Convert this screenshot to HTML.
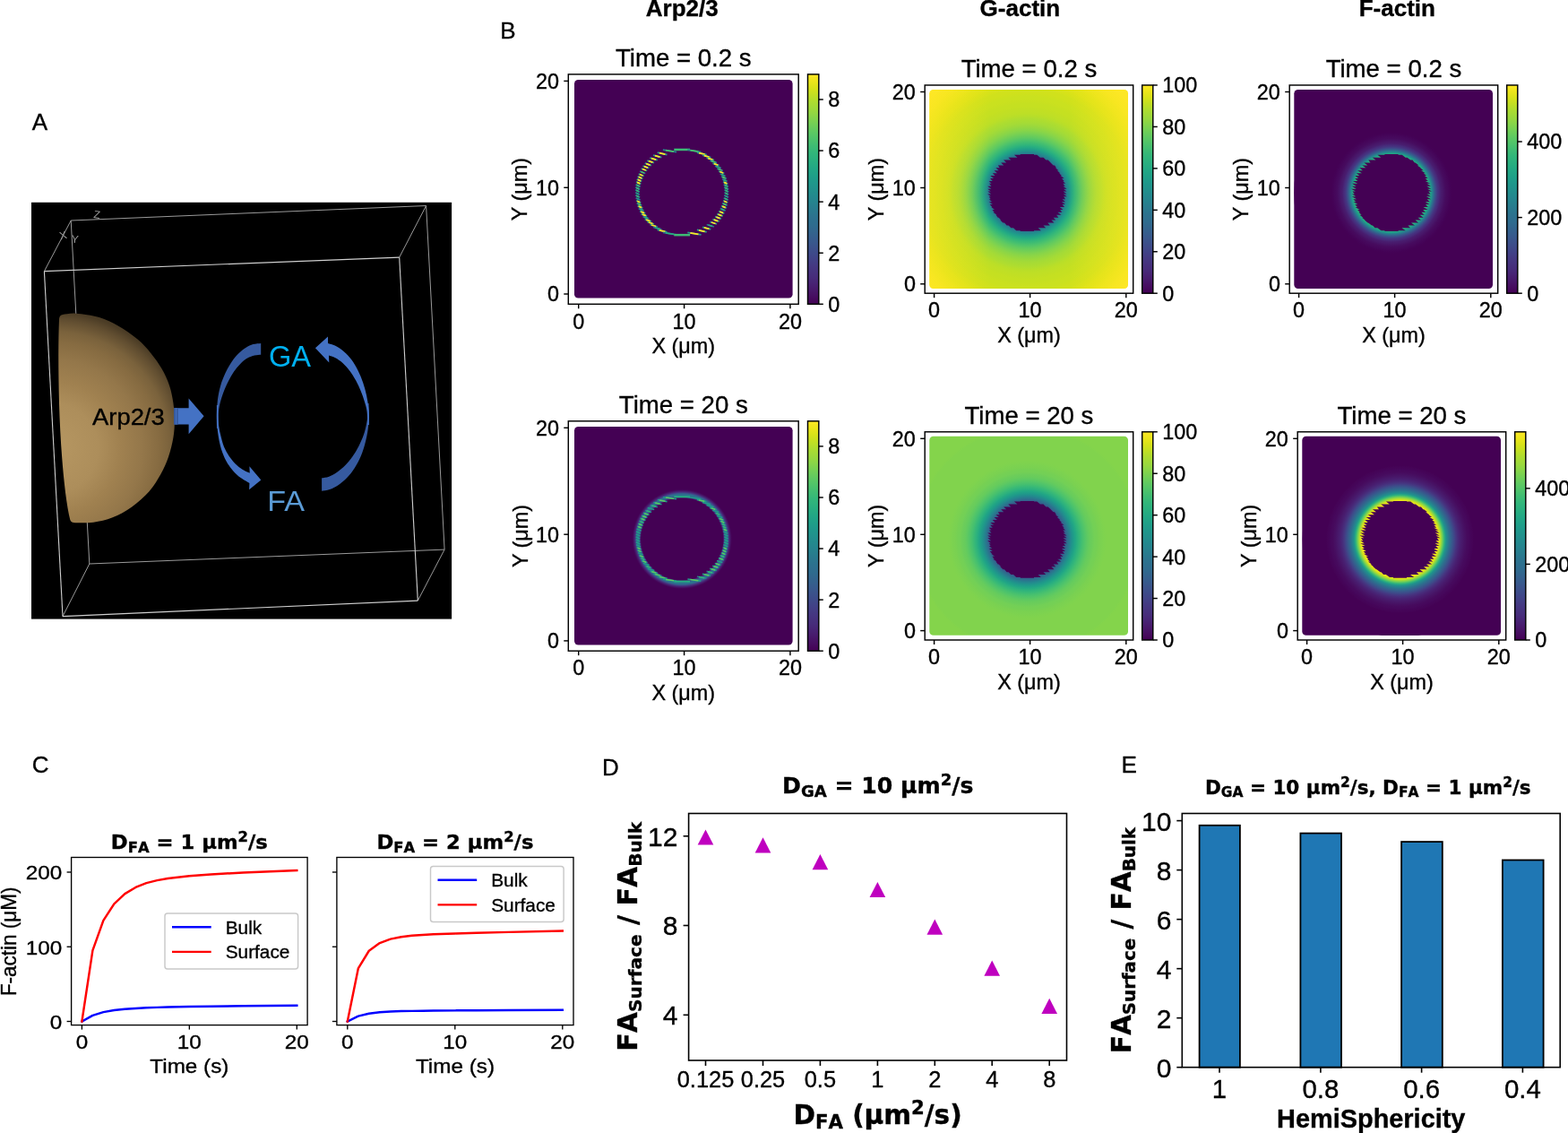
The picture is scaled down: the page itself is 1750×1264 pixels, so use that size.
<!DOCTYPE html>
<html lang="en">
<head>
<meta charset="utf-8">
<title>Figure: Arp2/3, G-actin and F-actin simulation</title>
<style>
html,body{margin:0;padding:0;background:#fff;}
body{width:1750px;height:1264px;overflow:hidden;font-family:'Liberation Sans',Arial,sans-serif;}
svg{display:block;}
</style>
</head>
<body>
<svg width="1750" height="1264" viewBox="0 0 1750 1264">
<defs>
<radialGradient id="hemi" gradientUnits="userSpaceOnUse" cx="60" cy="500" r="165">
<stop offset="0" stop-color="#b69762"/><stop offset="0.3" stop-color="#ad8e5b"/><stop offset="0.45" stop-color="#a08150"/><stop offset="0.6" stop-color="#94774a"/><stop offset="0.72" stop-color="#866b41"/><stop offset="0.79" stop-color="#7a623c"/><stop offset="0.87" stop-color="#604d30"/><stop offset="0.92" stop-color="#4c3d26"/><stop offset="1" stop-color="#3f321f"/>
</radialGradient>
<linearGradient id="virV" x1="0" y1="0" x2="0" y2="1"><stop offset="0" stop-color="#fde725"/><stop offset="0.03" stop-color="#ece51b"/><stop offset="0.06" stop-color="#d8e219"/><stop offset="0.09" stop-color="#c2df23"/><stop offset="0.12" stop-color="#addc30"/><stop offset="0.16" stop-color="#98d83e"/><stop offset="0.19" stop-color="#84d44b"/><stop offset="0.22" stop-color="#70cf57"/><stop offset="0.25" stop-color="#5ec962"/><stop offset="0.28" stop-color="#4ec36b"/><stop offset="0.31" stop-color="#3fbc73"/><stop offset="0.34" stop-color="#32b67a"/><stop offset="0.38" stop-color="#28ae80"/><stop offset="0.41" stop-color="#22a785"/><stop offset="0.44" stop-color="#1fa088"/><stop offset="0.47" stop-color="#1f988b"/><stop offset="0.5" stop-color="#21918c"/><stop offset="0.53" stop-color="#23898e"/><stop offset="0.56" stop-color="#26828e"/><stop offset="0.59" stop-color="#297a8e"/><stop offset="0.62" stop-color="#2c728e"/><stop offset="0.66" stop-color="#2f6b8e"/><stop offset="0.69" stop-color="#33638d"/><stop offset="0.72" stop-color="#375b8d"/><stop offset="0.75" stop-color="#3b528b"/><stop offset="0.78" stop-color="#3e4989"/><stop offset="0.81" stop-color="#424086"/><stop offset="0.84" stop-color="#453781"/><stop offset="0.88" stop-color="#472d7b"/><stop offset="0.91" stop-color="#482374"/><stop offset="0.94" stop-color="#48186a"/><stop offset="0.97" stop-color="#470d60"/><stop offset="1" stop-color="#440154"/></linearGradient>
<clipPath id="cliphm1"><rect x="641" y="89" width="243.6" height="243.6" rx="4.4" ry="4.4"/></clipPath>
<clipPath id="cliphm2"><rect x="641" y="475.9" width="243.6" height="243.6" rx="4.4" ry="4.4"/></clipPath>
<radialGradient id="hm2g" gradientUnits="userSpaceOnUse" cx="761.2" cy="601.45" r="55.9"><stop offset="0%" stop-color="#440154"/><stop offset="1.67%" stop-color="#440154"/><stop offset="3.33%" stop-color="#440154"/><stop offset="5%" stop-color="#440154"/><stop offset="6.67%" stop-color="#440154"/><stop offset="8.33%" stop-color="#440154"/><stop offset="10%" stop-color="#440154"/><stop offset="11.67%" stop-color="#440154"/><stop offset="13.33%" stop-color="#440154"/><stop offset="15%" stop-color="#440154"/><stop offset="16.67%" stop-color="#440154"/><stop offset="18.33%" stop-color="#440154"/><stop offset="20%" stop-color="#440154"/><stop offset="21.67%" stop-color="#440154"/><stop offset="23.33%" stop-color="#440154"/><stop offset="25%" stop-color="#440154"/><stop offset="26.67%" stop-color="#440154"/><stop offset="28.33%" stop-color="#440154"/><stop offset="30%" stop-color="#440154"/><stop offset="31.67%" stop-color="#440154"/><stop offset="33.33%" stop-color="#440154"/><stop offset="35%" stop-color="#440154"/><stop offset="36.67%" stop-color="#440154"/><stop offset="38.33%" stop-color="#440154"/><stop offset="40%" stop-color="#440154"/><stop offset="41.67%" stop-color="#440154"/><stop offset="43.33%" stop-color="#440154"/><stop offset="45%" stop-color="#440154"/><stop offset="46.67%" stop-color="#440154"/><stop offset="48.33%" stop-color="#440154"/><stop offset="50%" stop-color="#440154"/><stop offset="51.67%" stop-color="#440154"/><stop offset="53.33%" stop-color="#440154"/><stop offset="55%" stop-color="#440154"/><stop offset="56.67%" stop-color="#440154"/><stop offset="58.33%" stop-color="#440154"/><stop offset="60%" stop-color="#440154"/><stop offset="61.67%" stop-color="#440154"/><stop offset="63.33%" stop-color="#440154"/><stop offset="65%" stop-color="#440154"/><stop offset="66.67%" stop-color="#440154"/><stop offset="68.33%" stop-color="#440154"/><stop offset="70%" stop-color="#440154"/><stop offset="71.67%" stop-color="#440154"/><stop offset="73.33%" stop-color="#440154"/><stop offset="75%" stop-color="#440154"/><stop offset="76.67%" stop-color="#440154"/><stop offset="78.33%" stop-color="#440154"/><stop offset="80%" stop-color="#440154"/><stop offset="81.67%" stop-color="#440154"/><stop offset="83.33%" stop-color="#482173"/><stop offset="85%" stop-color="#3f4889"/><stop offset="86.67%" stop-color="#2e6d8e"/><stop offset="88.33%" stop-color="#2a768e"/><stop offset="90%" stop-color="#2f6b8e"/><stop offset="91.67%" stop-color="#3b528b"/><stop offset="93.33%" stop-color="#453781"/><stop offset="95%" stop-color="#482173"/><stop offset="96.67%" stop-color="#471365"/><stop offset="98.33%" stop-color="#450559"/><stop offset="100%" stop-color="#440154"/></radialGradient>
<clipPath id="cliphm3"><rect x="1037.3" y="99.9" width="221.7" height="222.1" rx="4.4" ry="4.4"/></clipPath>
<radialGradient id="hm3g" gradientUnits="userSpaceOnUse" cx="1146.4" cy="215" r="161.02"><stop offset="0%" stop-color="#2a788e"/><stop offset="1.67%" stop-color="#2a788e"/><stop offset="3.33%" stop-color="#2a788e"/><stop offset="5%" stop-color="#2a788e"/><stop offset="6.67%" stop-color="#2a788e"/><stop offset="8.33%" stop-color="#2a788e"/><stop offset="10%" stop-color="#2a788e"/><stop offset="11.67%" stop-color="#2a788e"/><stop offset="13.33%" stop-color="#2a788e"/><stop offset="15%" stop-color="#2a788e"/><stop offset="16.67%" stop-color="#2a788e"/><stop offset="18.33%" stop-color="#2a788e"/><stop offset="20%" stop-color="#2a788e"/><stop offset="21.67%" stop-color="#2a788e"/><stop offset="23.33%" stop-color="#2a788e"/><stop offset="25%" stop-color="#2a788e"/><stop offset="26.67%" stop-color="#2a788e"/><stop offset="28.33%" stop-color="#228c8d"/><stop offset="30%" stop-color="#1f9e89"/><stop offset="31.67%" stop-color="#25ac82"/><stop offset="33.33%" stop-color="#32b67a"/><stop offset="35%" stop-color="#40bd72"/><stop offset="36.67%" stop-color="#50c46a"/><stop offset="38.33%" stop-color="#60ca60"/><stop offset="40%" stop-color="#6ece58"/><stop offset="41.67%" stop-color="#7cd250"/><stop offset="43.33%" stop-color="#89d548"/><stop offset="45%" stop-color="#93d741"/><stop offset="46.67%" stop-color="#9dd93b"/><stop offset="48.33%" stop-color="#a5db36"/><stop offset="50%" stop-color="#aadc32"/><stop offset="51.67%" stop-color="#b0dd2f"/><stop offset="53.33%" stop-color="#b8de29"/><stop offset="55%" stop-color="#bddf26"/><stop offset="56.67%" stop-color="#c0df25"/><stop offset="58.33%" stop-color="#c2df23"/><stop offset="60%" stop-color="#c5e021"/><stop offset="61.67%" stop-color="#c5e021"/><stop offset="63.33%" stop-color="#c8e020"/><stop offset="65%" stop-color="#cae11f"/><stop offset="66.67%" stop-color="#cae11f"/><stop offset="68.33%" stop-color="#cde11d"/><stop offset="70%" stop-color="#d0e11c"/><stop offset="71.67%" stop-color="#d0e11c"/><stop offset="73.33%" stop-color="#d5e21a"/><stop offset="75%" stop-color="#d8e219"/><stop offset="76.67%" stop-color="#dde318"/><stop offset="78.33%" stop-color="#dfe318"/><stop offset="80%" stop-color="#e2e418"/><stop offset="81.67%" stop-color="#e7e419"/><stop offset="83.33%" stop-color="#eae51a"/><stop offset="85%" stop-color="#ece51b"/><stop offset="86.67%" stop-color="#f1e51d"/><stop offset="88.33%" stop-color="#f4e61e"/><stop offset="90%" stop-color="#f6e620"/><stop offset="91.67%" stop-color="#f8e621"/><stop offset="93.33%" stop-color="#fbe723"/><stop offset="95%" stop-color="#fde725"/><stop offset="96.67%" stop-color="#fde725"/><stop offset="98.33%" stop-color="#fde725"/><stop offset="100%" stop-color="#fde725"/></radialGradient>
<linearGradient id="hm3h" x1="0" y1="0" x2="1" y2="0"><stop offset="0" stop-color="#fde725" stop-opacity="0.55"/><stop offset="0.12" stop-color="#fde725" stop-opacity="0.3"/><stop offset="0.3" stop-color="#fde725" stop-opacity="0"/><stop offset="0.7" stop-color="#fde725" stop-opacity="0"/><stop offset="0.88" stop-color="#fde725" stop-opacity="0.3"/><stop offset="1" stop-color="#fde725" stop-opacity="0.55"/></linearGradient>
<clipPath id="cliphm4"><rect x="1037.3" y="486.7" width="221.7" height="222.1" rx="4.4" ry="4.4"/></clipPath>
<radialGradient id="hm4g" gradientUnits="userSpaceOnUse" cx="1146.4" cy="601.8" r="161.02"><stop offset="0%" stop-color="#355f8d"/><stop offset="1.67%" stop-color="#355f8d"/><stop offset="3.33%" stop-color="#355f8d"/><stop offset="5%" stop-color="#355f8d"/><stop offset="6.67%" stop-color="#355f8d"/><stop offset="8.33%" stop-color="#355f8d"/><stop offset="10%" stop-color="#355f8d"/><stop offset="11.67%" stop-color="#355f8d"/><stop offset="13.33%" stop-color="#355f8d"/><stop offset="15%" stop-color="#355f8d"/><stop offset="16.67%" stop-color="#355f8d"/><stop offset="18.33%" stop-color="#355f8d"/><stop offset="20%" stop-color="#355f8d"/><stop offset="21.67%" stop-color="#355f8d"/><stop offset="23.33%" stop-color="#355f8d"/><stop offset="25%" stop-color="#355f8d"/><stop offset="26.67%" stop-color="#355f8d"/><stop offset="28.33%" stop-color="#2b748e"/><stop offset="30%" stop-color="#23888e"/><stop offset="31.67%" stop-color="#1f998a"/><stop offset="33.33%" stop-color="#21a685"/><stop offset="35%" stop-color="#2cb17e"/><stop offset="36.67%" stop-color="#38b977"/><stop offset="38.33%" stop-color="#46c06f"/><stop offset="40%" stop-color="#52c569"/><stop offset="41.67%" stop-color="#5ec962"/><stop offset="43.33%" stop-color="#67cc5c"/><stop offset="45%" stop-color="#6ccd5a"/><stop offset="46.67%" stop-color="#73d056"/><stop offset="48.33%" stop-color="#75d054"/><stop offset="50%" stop-color="#7ad151"/><stop offset="51.67%" stop-color="#7cd250"/><stop offset="53.33%" stop-color="#7fd34e"/><stop offset="55%" stop-color="#81d34d"/><stop offset="56.67%" stop-color="#81d34d"/><stop offset="58.33%" stop-color="#81d34d"/><stop offset="60%" stop-color="#81d34d"/><stop offset="61.67%" stop-color="#81d34d"/><stop offset="63.33%" stop-color="#81d34d"/><stop offset="65%" stop-color="#81d34d"/><stop offset="66.67%" stop-color="#81d34d"/><stop offset="68.33%" stop-color="#81d34d"/><stop offset="70%" stop-color="#81d34d"/><stop offset="71.67%" stop-color="#81d34d"/><stop offset="73.33%" stop-color="#81d34d"/><stop offset="75%" stop-color="#81d34d"/><stop offset="76.67%" stop-color="#81d34d"/><stop offset="78.33%" stop-color="#84d44b"/><stop offset="80%" stop-color="#84d44b"/><stop offset="81.67%" stop-color="#84d44b"/><stop offset="83.33%" stop-color="#84d44b"/><stop offset="85%" stop-color="#84d44b"/><stop offset="86.67%" stop-color="#84d44b"/><stop offset="88.33%" stop-color="#84d44b"/><stop offset="90%" stop-color="#84d44b"/><stop offset="91.67%" stop-color="#84d44b"/><stop offset="93.33%" stop-color="#84d44b"/><stop offset="95%" stop-color="#84d44b"/><stop offset="96.67%" stop-color="#84d44b"/><stop offset="98.33%" stop-color="#84d44b"/><stop offset="100%" stop-color="#84d44b"/></radialGradient>
<clipPath id="cliphm5"><rect x="1444.3" y="99.9" width="221.7" height="222.1" rx="4.4" ry="4.4"/></clipPath>
<radialGradient id="hm5g" gradientUnits="userSpaceOnUse" cx="1553" cy="215" r="110"><stop offset="0%" stop-color="#32b67a"/><stop offset="1.67%" stop-color="#32b67a"/><stop offset="3.33%" stop-color="#32b67a"/><stop offset="5%" stop-color="#32b67a"/><stop offset="6.67%" stop-color="#32b67a"/><stop offset="8.33%" stop-color="#32b67a"/><stop offset="10%" stop-color="#32b67a"/><stop offset="11.67%" stop-color="#32b67a"/><stop offset="13.33%" stop-color="#32b67a"/><stop offset="15%" stop-color="#32b67a"/><stop offset="16.67%" stop-color="#32b67a"/><stop offset="18.33%" stop-color="#32b67a"/><stop offset="20%" stop-color="#32b67a"/><stop offset="21.67%" stop-color="#32b67a"/><stop offset="23.33%" stop-color="#32b67a"/><stop offset="25%" stop-color="#32b67a"/><stop offset="26.67%" stop-color="#32b67a"/><stop offset="28.33%" stop-color="#32b67a"/><stop offset="30%" stop-color="#32b67a"/><stop offset="31.67%" stop-color="#32b67a"/><stop offset="33.33%" stop-color="#32b67a"/><stop offset="35%" stop-color="#32b67a"/><stop offset="36.67%" stop-color="#32b67a"/><stop offset="38.33%" stop-color="#2db27d"/><stop offset="40%" stop-color="#1fa187"/><stop offset="41.67%" stop-color="#26828e"/><stop offset="43.33%" stop-color="#33638d"/><stop offset="45%" stop-color="#3e4a89"/><stop offset="46.67%" stop-color="#453581"/><stop offset="48.33%" stop-color="#472a7a"/><stop offset="50%" stop-color="#481d6f"/><stop offset="51.67%" stop-color="#48186a"/><stop offset="53.33%" stop-color="#471164"/><stop offset="55%" stop-color="#460b5e"/><stop offset="56.67%" stop-color="#46085c"/><stop offset="58.33%" stop-color="#450559"/><stop offset="60%" stop-color="#440256"/><stop offset="61.67%" stop-color="#440154"/><stop offset="63.33%" stop-color="#440154"/><stop offset="65%" stop-color="#440154"/><stop offset="66.67%" stop-color="#440154"/><stop offset="68.33%" stop-color="#440154"/><stop offset="70%" stop-color="#440154"/><stop offset="71.67%" stop-color="#440154"/><stop offset="73.33%" stop-color="#440154"/><stop offset="75%" stop-color="#440154"/><stop offset="76.67%" stop-color="#440154"/><stop offset="78.33%" stop-color="#440154"/><stop offset="80%" stop-color="#440154"/><stop offset="81.67%" stop-color="#440154"/><stop offset="83.33%" stop-color="#440154"/><stop offset="85%" stop-color="#440154"/><stop offset="86.67%" stop-color="#440154"/><stop offset="88.33%" stop-color="#440154"/><stop offset="90%" stop-color="#440154"/><stop offset="91.67%" stop-color="#440154"/><stop offset="93.33%" stop-color="#440154"/><stop offset="95%" stop-color="#440154"/><stop offset="96.67%" stop-color="#440154"/><stop offset="98.33%" stop-color="#440154"/><stop offset="100%" stop-color="#440154"/></radialGradient>
<clipPath id="cliphm6"><rect x="1453.3" y="486.7" width="221.7" height="222.1" rx="4.4" ry="4.4"/></clipPath>
<radialGradient id="hm6g" gradientUnits="userSpaceOnUse" cx="1562.5" cy="601.8" r="110"><stop offset="0%" stop-color="#fde725"/><stop offset="1.67%" stop-color="#fde725"/><stop offset="3.33%" stop-color="#fde725"/><stop offset="5%" stop-color="#fde725"/><stop offset="6.67%" stop-color="#fde725"/><stop offset="8.33%" stop-color="#fde725"/><stop offset="10%" stop-color="#fde725"/><stop offset="11.67%" stop-color="#fde725"/><stop offset="13.33%" stop-color="#fde725"/><stop offset="15%" stop-color="#fde725"/><stop offset="16.67%" stop-color="#fde725"/><stop offset="18.33%" stop-color="#fde725"/><stop offset="20%" stop-color="#fde725"/><stop offset="21.67%" stop-color="#fde725"/><stop offset="23.33%" stop-color="#fde725"/><stop offset="25%" stop-color="#fde725"/><stop offset="26.67%" stop-color="#fde725"/><stop offset="28.33%" stop-color="#fde725"/><stop offset="30%" stop-color="#fde725"/><stop offset="31.67%" stop-color="#fde725"/><stop offset="33.33%" stop-color="#fde725"/><stop offset="35%" stop-color="#fde725"/><stop offset="36.67%" stop-color="#fde725"/><stop offset="38.33%" stop-color="#f8e621"/><stop offset="40%" stop-color="#dfe318"/><stop offset="41.67%" stop-color="#a5db36"/><stop offset="43.33%" stop-color="#65cb5e"/><stop offset="45%" stop-color="#2db27d"/><stop offset="46.67%" stop-color="#1f948c"/><stop offset="48.33%" stop-color="#26828e"/><stop offset="50%" stop-color="#2c718e"/><stop offset="51.67%" stop-color="#33638d"/><stop offset="53.33%" stop-color="#39558c"/><stop offset="55%" stop-color="#3f4788"/><stop offset="56.67%" stop-color="#453882"/><stop offset="58.33%" stop-color="#472d7b"/><stop offset="60%" stop-color="#482475"/><stop offset="61.67%" stop-color="#481d6f"/><stop offset="63.33%" stop-color="#48186a"/><stop offset="65%" stop-color="#471365"/><stop offset="66.67%" stop-color="#470e61"/><stop offset="68.33%" stop-color="#460a5d"/><stop offset="70%" stop-color="#46085c"/><stop offset="71.67%" stop-color="#450559"/><stop offset="73.33%" stop-color="#450457"/><stop offset="75%" stop-color="#440154"/><stop offset="76.67%" stop-color="#440154"/><stop offset="78.33%" stop-color="#440154"/><stop offset="80%" stop-color="#440154"/><stop offset="81.67%" stop-color="#440154"/><stop offset="83.33%" stop-color="#440154"/><stop offset="85%" stop-color="#440154"/><stop offset="86.67%" stop-color="#440154"/><stop offset="88.33%" stop-color="#440154"/><stop offset="90%" stop-color="#440154"/><stop offset="91.67%" stop-color="#440154"/><stop offset="93.33%" stop-color="#440154"/><stop offset="95%" stop-color="#440154"/><stop offset="96.67%" stop-color="#440154"/><stop offset="98.33%" stop-color="#440154"/><stop offset="100%" stop-color="#440154"/></radialGradient>
</defs>
<rect x="0" y="0" width="1750" height="1264" fill="#ffffff"/>
<text x="35.7" y="145.1" font-family="'Liberation Sans', Arial, Helvetica, sans-serif" font-size="26" font-weight="normal" text-anchor="start" fill="#000" stroke="#000" stroke-width="0.35">A</text>
<g id="panelA">
<rect x="35" y="225.8" width="469.1" height="464.8" fill="#000" stroke="none" stroke-width="0"/>
<line x1="79.2" y1="246" x2="475.6" y2="229.5" stroke="#9a9a9a" stroke-width="1"/>
<line x1="475.6" y1="229.5" x2="496.1" y2="613.1" stroke="#9a9a9a" stroke-width="1"/>
<line x1="496.1" y1="613.1" x2="99.8" y2="629" stroke="#9a9a9a" stroke-width="1"/>
<line x1="99.8" y1="629" x2="79.2" y2="246" stroke="#9a9a9a" stroke-width="1"/>
<line x1="49.4" y1="302.6" x2="79.2" y2="246" stroke="#9a9a9a" stroke-width="1"/>
<line x1="445.7" y1="287.1" x2="475.6" y2="229.5" stroke="#9a9a9a" stroke-width="1"/>
<line x1="70" y1="687.6" x2="99.8" y2="629" stroke="#9a9a9a" stroke-width="1"/>
<line x1="466.3" y1="670.1" x2="496.1" y2="613.1" stroke="#9a9a9a" stroke-width="1"/>
<line x1="49.4" y1="302.6" x2="445.7" y2="287.1" stroke="#cfcfcf" stroke-width="1.1"/>
<line x1="445.7" y1="287.1" x2="466.3" y2="670.1" stroke="#cfcfcf" stroke-width="1.1"/>
<line x1="466.3" y1="670.1" x2="70" y2="687.6" stroke="#cfcfcf" stroke-width="1.1"/>
<line x1="70" y1="687.6" x2="49.4" y2="302.6" stroke="#cfcfcf" stroke-width="1.1"/>
<text x="104" y="243" font-family="'Liberation Sans', Arial, Helvetica, sans-serif" font-size="12" font-weight="normal" text-anchor="start" fill="#9c9c9c" transform="rotate(8 104 243)">Z</text>
<text x="67.4" y="267.6" font-family="'Liberation Sans', Arial, Helvetica, sans-serif" font-size="12" font-weight="normal" text-anchor="start" fill="#9c9c9c" transform="rotate(-14 67.4 267.6)">X</text>
<text x="79.2" y="270.4" font-family="'Liberation Sans', Arial, Helvetica, sans-serif" font-size="12" font-weight="normal" text-anchor="start" fill="#9c9c9c" transform="rotate(6 79.2 270.4)">Y</text>
<path d="M70,351 C72.48,350.78 78.12,349.2 84.9,349.7 C91.68,350.2 102.82,351.67 110.7,354 C118.58,356.33 125.05,359.6 132.2,363.7 C139.35,367.8 147.55,373.52 153.6,378.6 C159.65,383.68 164.02,388.75 168.5,394.2 C172.98,399.65 177.07,405.3 180.5,411.3 C183.93,417.3 186.95,423.82 189.1,430.2 C191.25,436.58 192.43,443.15 193.4,449.6 C194.37,456.05 194.9,462.47 194.9,468.9 C194.9,475.33 194.55,481.4 193.4,488.2 C192.25,495 190.33,502.9 188,509.7 C185.67,516.5 182.98,522.57 179.4,529 C175.82,535.43 171.87,542.22 166.5,548.3 C161.13,554.38 154,560.67 147.2,565.5 C140.4,570.33 132.87,574.43 125.7,577.3 C118.53,580.17 111.15,581.72 104.2,582.7 C97.25,583.68 87.37,583.12 84,583.2 Q79.5,583.2 78.3,580 C72,555 67.5,500 66,450 C65,410 65,380 66,356 Q66.3,351.4 70,351 Z" fill="url(#hemi)"/>
<text transform="translate(103 473.7) scale(1.0300 1.0000)" font-family="'Liberation Sans', Arial, Helvetica, sans-serif" font-size="26.6" font-weight="normal" text-anchor="start" fill="#000" stroke="#000" stroke-width="0.35">Arp2/3</text>
<path d="M194.2,455.2 H210.6 V444.4 L227.6,464.2 L210.6,484.2 V473.6 H194.2 Z" fill="#4472c4"/>
<rect x="194.2" y="455.2" width="4.6" height="18.4" fill="#365a9f"/>
<rect x="196.1" y="455.2" width="0.9" height="18.4" fill="#4472c4"/>
<path d="M291.2,382.9 C289.75,383.1 285.27,383.3 282.5,384.1 C279.73,384.9 277.25,386.05 274.6,387.7 C271.95,389.35 269.25,391.37 266.6,394 C263.95,396.63 261.2,399.82 258.7,403.5 C256.2,407.18 253.7,411.62 251.6,416.1 C249.5,420.58 247.55,425.38 246.1,430.4 C244.65,435.42 243.62,440.93 242.9,446.2 C242.18,451.47 241.95,456.7 241.8,462 C241.65,467.3 241.97,475.33 242,478 L244,478 C243.97,475.33 243.58,466.5 243.8,462 C244.02,457.5 244.4,454.95 245.3,451 C246.2,447.05 247.62,442.53 249.2,438.3 C250.78,434.07 252.82,429.55 254.8,425.6 C256.78,421.65 258.87,417.88 261.1,414.6 C263.33,411.32 265.7,408.42 268.2,405.9 C270.7,403.38 273.45,401.07 276.1,399.5 C278.75,397.93 281.58,397.13 284.1,396.5 C286.62,395.87 290.02,395.83 291.2,395.7 Z" fill="#365a9f"/>
<path d="M241.9,452 C241.93,455.13 241.8,465.03 242.1,470.8 C242.4,476.57 242.9,481.58 243.7,486.6 C244.5,491.62 245.45,496.28 246.9,500.9 C248.35,505.52 250.17,510.22 252.4,514.3 C254.63,518.38 257.53,522.23 260.3,525.4 C263.07,528.57 265.98,531.05 269,533.3 C272.02,535.55 276.83,537.97 278.4,538.9 L278.1,546.2 L291.3,535.5 L278.4,520.2 L278.7,527.8 L278.7,527.8 C277.35,527.13 273.27,525.52 270.6,523.8 C267.93,522.08 265.2,520 262.7,517.5 C260.2,515 257.72,511.97 255.6,508.8 C253.48,505.63 251.52,502.2 250,498.5 C248.48,494.8 247.48,490.55 246.5,486.6 C245.52,482.65 244.62,478.75 244.1,474.8 C243.58,470.85 243.52,466.7 243.4,462.9 C243.28,459.1 243.4,453.82 243.4,452 Z" fill="#4472c4"/>
<path d="M359.1,547.7 C360.58,547.42 364.93,547.08 368,546 C371.07,544.92 374.33,543.32 377.5,541.2 C380.67,539.08 383.97,536.47 387,533.3 C390.03,530.13 393.07,526.28 395.7,522.2 C398.33,518.12 400.83,513.4 402.8,508.8 C404.77,504.2 406.18,499.62 407.5,494.6 C408.82,489.58 409.97,483.98 410.7,478.7 C411.43,473.42 411.77,467.68 411.9,462.9 C412.03,458.12 411.57,452.15 411.5,450 L409.7,450 C409.8,452.15 410.4,459.17 410.3,462.9 C410.2,466.63 409.83,468.7 409.1,472.4 C408.37,476.1 407.35,480.88 405.9,485.1 C404.45,489.32 402.5,493.62 400.4,497.7 C398.3,501.78 395.8,506.03 393.3,509.6 C390.8,513.17 388.3,516.2 385.4,519.1 C382.5,522 378.93,524.9 375.9,527 C372.87,529.1 370,530.65 367.2,531.7 C364.4,532.75 360.45,533.03 359.1,533.3 Z" fill="#365a9f"/>
<path d="M411.9,474 C411.83,471.17 411.97,462.47 411.5,457 C411.03,451.53 410.15,446.2 409.1,441.2 C408.05,436.2 406.78,431.62 405.2,427 C403.62,422.38 401.72,417.73 399.6,413.5 C397.48,409.27 395.13,405.15 392.5,401.6 C389.87,398.05 386.83,394.83 383.8,392.2 C380.77,389.57 377.27,387.32 374.3,385.8 C371.33,384.28 367.38,383.55 366,383.1 L366,375.6 L351.9,388.2 L367.3,404.5 L367,396.5 L367,396.5 C368.22,396.97 371.77,397.92 374.3,399.3 C376.83,400.68 379.57,402.43 382.2,404.8 C384.83,407.17 387.6,410.2 390.1,413.5 C392.6,416.8 395.08,420.77 397.2,424.6 C399.32,428.43 401.22,432.68 402.8,436.5 C404.38,440.32 405.58,443.82 406.7,447.5 C407.82,451.18 408.9,454.18 409.5,458.6 C410.1,463.02 410.17,471.43 410.3,474 Z" fill="#4472c4"/>
<text x="299.9" y="409.2" font-family="'Liberation Sans', Arial, Helvetica, sans-serif" font-size="32.6" font-weight="normal" text-anchor="start" fill="#00b0f0">GA</text>
<text transform="translate(298.2 569.6) scale(1.0600 1.0000)" font-family="'Liberation Sans', Arial, Helvetica, sans-serif" font-size="32.2" font-weight="normal" text-anchor="start" fill="#5b9bd5">FA</text>
</g>
<text x="558.3" y="42.6" font-family="'Liberation Sans', Arial, Helvetica, sans-serif" font-size="26" font-weight="normal" text-anchor="start" fill="#000" stroke="#000" stroke-width="0.35">B</text>
<text x="761.3" y="18.3" font-family="'Liberation Sans', Arial, Helvetica, sans-serif" font-size="26" font-weight="bold" text-anchor="middle" fill="#000" stroke="#000" stroke-width="0.35">Arp2/3</text>
<text x="1138.4" y="18.3" font-family="'Liberation Sans', Arial, Helvetica, sans-serif" font-size="26" font-weight="bold" text-anchor="middle" fill="#000" stroke="#000" stroke-width="0.35">G-actin</text>
<text x="1559.3" y="18.3" font-family="'Liberation Sans', Arial, Helvetica, sans-serif" font-size="26" font-weight="bold" text-anchor="middle" fill="#000" stroke="#000" stroke-width="0.35">F-actin</text>
<g id="hm1">
<rect x="641" y="89" width="243.6" height="243.6" rx="4.4" ry="4.4" fill="#440154"/>
<g stroke-linecap="butt"><line x1="752.27" y1="166.95" x2="770.13" y2="166.95" stroke="#3dbc74" stroke-width="2.52"/><line x1="739.88" y1="167.19" x2="755.07" y2="169.69" stroke="#26828e" stroke-width="1.8"/><line x1="742.92" y1="167.69" x2="752.03" y2="169.19" stroke="#4ac16d" stroke-width="1.8"/><line x1="767.33" y1="167.19" x2="782.52" y2="169.69" stroke="#26828e" stroke-width="1.8"/><line x1="770.37" y1="167.69" x2="779.48" y2="169.19" stroke="#4ac16d" stroke-width="1.8"/><line x1="733.73" y1="170.16" x2="744.48" y2="172.66" stroke="#2a9d8a" stroke-width="1.8"/><line x1="735.88" y1="170.66" x2="742.33" y2="172.16" stroke="#fde725" stroke-width="1.8"/><line x1="777.92" y1="170.16" x2="788.67" y2="172.66" stroke="#2a9d8a" stroke-width="1.8"/><line x1="780.07" y1="170.66" x2="786.52" y2="172.16" stroke="#fde725" stroke-width="1.8"/><line x1="729.13" y1="173.14" x2="738.33" y2="175.64" stroke="#2a9d8a" stroke-width="1.8"/><line x1="730.97" y1="173.64" x2="736.49" y2="175.14" stroke="#fde725" stroke-width="1.8"/><line x1="784.07" y1="173.14" x2="793.27" y2="175.64" stroke="#2a9d8a" stroke-width="1.8"/><line x1="785.91" y1="173.64" x2="791.43" y2="175.14" stroke="#fde725" stroke-width="1.8"/><line x1="725.42" y1="176.11" x2="733.73" y2="178.61" stroke="#2a9d8a" stroke-width="1.8"/><line x1="727.08" y1="176.61" x2="732.07" y2="178.11" stroke="#fde725" stroke-width="1.8"/><line x1="788.67" y1="176.11" x2="796.98" y2="178.61" stroke="#2a9d8a" stroke-width="1.8"/><line x1="790.33" y1="176.61" x2="795.32" y2="178.11" stroke="#fde725" stroke-width="1.8"/><line x1="722.35" y1="179.09" x2="730.02" y2="181.59" stroke="#2a9d8a" stroke-width="1.8"/><line x1="723.88" y1="179.59" x2="728.49" y2="181.09" stroke="#fde725" stroke-width="1.8"/><line x1="792.38" y1="179.09" x2="800.05" y2="181.59" stroke="#26828e" stroke-width="1.8"/><line x1="793.91" y1="179.59" x2="798.52" y2="181.09" stroke="#4ac16d" stroke-width="1.8"/><line x1="719.75" y1="182.06" x2="726.95" y2="184.56" stroke="#2a9d8a" stroke-width="1.8"/><line x1="721.19" y1="182.56" x2="725.51" y2="184.06" stroke="#fde725" stroke-width="1.8"/><line x1="795.45" y1="182.06" x2="802.65" y2="184.56" stroke="#2a9d8a" stroke-width="1.8"/><line x1="796.89" y1="182.56" x2="801.21" y2="184.06" stroke="#fde725" stroke-width="1.8"/><line x1="717.54" y1="185.04" x2="724.35" y2="187.54" stroke="#2a9d8a" stroke-width="1.8"/><line x1="718.9" y1="185.54" x2="722.98" y2="187.04" stroke="#fde725" stroke-width="1.8"/><line x1="798.05" y1="185.04" x2="804.86" y2="187.54" stroke="#2c728e" stroke-width="1.8"/><line x1="799.42" y1="185.54" x2="803.5" y2="187.04" stroke="#27ad81" stroke-width="1.8"/><line x1="715.65" y1="188.01" x2="722.14" y2="190.51" stroke="#2a9d8a" stroke-width="1.8"/><line x1="716.95" y1="188.51" x2="720.84" y2="190.01" stroke="#fde725" stroke-width="1.8"/><line x1="800.26" y1="188.01" x2="806.75" y2="190.51" stroke="#26828e" stroke-width="1.8"/><line x1="801.56" y1="188.51" x2="805.45" y2="190.01" stroke="#4ac16d" stroke-width="1.8"/><line x1="714.06" y1="190.99" x2="720.25" y2="193.49" stroke="#26828e" stroke-width="1.8"/><line x1="715.3" y1="191.49" x2="719.01" y2="192.99" stroke="#4ac16d" stroke-width="1.8"/><line x1="802.15" y1="190.99" x2="808.34" y2="193.49" stroke="#2a9d8a" stroke-width="1.8"/><line x1="803.39" y1="191.49" x2="807.1" y2="192.99" stroke="#fde725" stroke-width="1.8"/><line x1="712.72" y1="193.96" x2="718.66" y2="196.46" stroke="#2a9d8a" stroke-width="1.8"/><line x1="713.91" y1="194.46" x2="717.47" y2="195.96" stroke="#fde725" stroke-width="1.8"/><line x1="803.74" y1="193.96" x2="809.68" y2="196.46" stroke="#2c728e" stroke-width="1.8"/><line x1="804.93" y1="194.46" x2="808.49" y2="195.96" stroke="#27ad81" stroke-width="1.8"/><line x1="711.62" y1="196.94" x2="717.32" y2="199.44" stroke="#2a9d8a" stroke-width="1.8"/><line x1="712.76" y1="197.44" x2="716.18" y2="198.94" stroke="#fde725" stroke-width="1.8"/><line x1="805.08" y1="196.94" x2="810.78" y2="199.44" stroke="#26828e" stroke-width="1.8"/><line x1="806.22" y1="197.44" x2="809.64" y2="198.94" stroke="#4ac16d" stroke-width="1.8"/><line x1="710.73" y1="199.91" x2="716.22" y2="202.41" stroke="#2a9d8a" stroke-width="1.8"/><line x1="711.83" y1="200.41" x2="715.12" y2="201.91" stroke="#fde725" stroke-width="1.8"/><line x1="806.18" y1="199.91" x2="811.67" y2="202.41" stroke="#2c728e" stroke-width="1.8"/><line x1="807.28" y1="200.41" x2="810.57" y2="201.91" stroke="#27ad81" stroke-width="1.8"/><line x1="710.06" y1="202.89" x2="715.33" y2="205.39" stroke="#2a9d8a" stroke-width="1.8"/><line x1="711.11" y1="203.39" x2="714.28" y2="204.89" stroke="#fde725" stroke-width="1.8"/><line x1="807.07" y1="202.89" x2="812.34" y2="205.39" stroke="#2a9d8a" stroke-width="1.8"/><line x1="808.12" y1="203.39" x2="811.29" y2="204.89" stroke="#fde725" stroke-width="1.8"/><line x1="709.58" y1="205.86" x2="714.66" y2="208.36" stroke="#26828e" stroke-width="1.8"/><line x1="710.59" y1="206.36" x2="713.64" y2="207.86" stroke="#35b779" stroke-width="1.8"/><line x1="807.74" y1="205.86" x2="812.82" y2="208.36" stroke="#26828e" stroke-width="1.8"/><line x1="808.76" y1="206.36" x2="811.81" y2="207.86" stroke="#35b779" stroke-width="1.8"/><line x1="709.29" y1="208.84" x2="714.18" y2="211.34" stroke="#26828e" stroke-width="1.8"/><line x1="710.27" y1="209.34" x2="713.2" y2="210.84" stroke="#35b779" stroke-width="1.8"/><line x1="808.22" y1="208.84" x2="813.11" y2="211.34" stroke="#26828e" stroke-width="1.8"/><line x1="809.2" y1="209.34" x2="812.13" y2="210.84" stroke="#35b779" stroke-width="1.8"/><line x1="709.2" y1="211.81" x2="713.89" y2="214.31" stroke="#26828e" stroke-width="1.8"/><line x1="710.14" y1="212.31" x2="712.96" y2="213.81" stroke="#35b779" stroke-width="1.8"/><line x1="808.51" y1="211.81" x2="813.2" y2="214.31" stroke="#26828e" stroke-width="1.8"/><line x1="809.44" y1="212.31" x2="812.26" y2="213.81" stroke="#35b779" stroke-width="1.8"/><line x1="709.2" y1="214.79" x2="713.89" y2="217.29" stroke="#2c728e" stroke-width="1.8"/><line x1="710.14" y1="215.29" x2="712.96" y2="216.79" stroke="#1f9e89" stroke-width="1.8"/><line x1="808.51" y1="214.79" x2="813.2" y2="217.29" stroke="#26828e" stroke-width="1.8"/><line x1="809.44" y1="215.29" x2="812.26" y2="216.79" stroke="#35b779" stroke-width="1.8"/><line x1="709.29" y1="217.76" x2="714.18" y2="220.26" stroke="#26828e" stroke-width="1.8"/><line x1="710.27" y1="218.26" x2="713.2" y2="219.76" stroke="#35b779" stroke-width="1.8"/><line x1="808.22" y1="217.76" x2="813.11" y2="220.26" stroke="#2c728e" stroke-width="1.8"/><line x1="809.2" y1="218.26" x2="812.13" y2="219.76" stroke="#1f9e89" stroke-width="1.8"/><line x1="709.58" y1="220.74" x2="714.66" y2="223.24" stroke="#2c728e" stroke-width="1.8"/><line x1="710.59" y1="221.24" x2="713.64" y2="222.74" stroke="#1f9e89" stroke-width="1.8"/><line x1="807.74" y1="220.74" x2="812.82" y2="223.24" stroke="#26828e" stroke-width="1.8"/><line x1="808.76" y1="221.24" x2="811.81" y2="222.74" stroke="#35b779" stroke-width="1.8"/><line x1="710.06" y1="223.71" x2="715.33" y2="226.21" stroke="#2a9d8a" stroke-width="1.8"/><line x1="711.11" y1="224.21" x2="714.28" y2="225.71" stroke="#fde725" stroke-width="1.8"/><line x1="807.07" y1="223.71" x2="812.34" y2="226.21" stroke="#2a9d8a" stroke-width="1.8"/><line x1="808.12" y1="224.21" x2="811.29" y2="225.71" stroke="#fde725" stroke-width="1.8"/><line x1="710.73" y1="226.69" x2="716.22" y2="229.19" stroke="#26828e" stroke-width="1.8"/><line x1="711.83" y1="227.19" x2="715.12" y2="228.69" stroke="#4ac16d" stroke-width="1.8"/><line x1="806.18" y1="226.69" x2="811.67" y2="229.19" stroke="#26828e" stroke-width="1.8"/><line x1="807.28" y1="227.19" x2="810.57" y2="228.69" stroke="#4ac16d" stroke-width="1.8"/><line x1="711.62" y1="229.66" x2="717.32" y2="232.16" stroke="#2a9d8a" stroke-width="1.8"/><line x1="712.76" y1="230.16" x2="716.18" y2="231.66" stroke="#fde725" stroke-width="1.8"/><line x1="805.08" y1="229.66" x2="810.78" y2="232.16" stroke="#2a9d8a" stroke-width="1.8"/><line x1="806.22" y1="230.16" x2="809.64" y2="231.66" stroke="#fde725" stroke-width="1.8"/><line x1="712.72" y1="232.64" x2="718.66" y2="235.14" stroke="#2c728e" stroke-width="1.8"/><line x1="713.91" y1="233.14" x2="717.47" y2="234.64" stroke="#27ad81" stroke-width="1.8"/><line x1="803.74" y1="232.64" x2="809.68" y2="235.14" stroke="#2c728e" stroke-width="1.8"/><line x1="804.93" y1="233.14" x2="808.49" y2="234.64" stroke="#27ad81" stroke-width="1.8"/><line x1="714.06" y1="235.61" x2="720.25" y2="238.11" stroke="#2a9d8a" stroke-width="1.8"/><line x1="715.3" y1="236.11" x2="719.01" y2="237.61" stroke="#fde725" stroke-width="1.8"/><line x1="802.15" y1="235.61" x2="808.34" y2="238.11" stroke="#2a9d8a" stroke-width="1.8"/><line x1="803.39" y1="236.11" x2="807.1" y2="237.61" stroke="#fde725" stroke-width="1.8"/><line x1="715.65" y1="238.59" x2="722.14" y2="241.09" stroke="#2a9d8a" stroke-width="1.8"/><line x1="716.95" y1="239.09" x2="720.84" y2="240.59" stroke="#fde725" stroke-width="1.8"/><line x1="800.26" y1="238.59" x2="806.75" y2="241.09" stroke="#2a9d8a" stroke-width="1.8"/><line x1="801.56" y1="239.09" x2="805.45" y2="240.59" stroke="#fde725" stroke-width="1.8"/><line x1="717.54" y1="241.56" x2="724.35" y2="244.06" stroke="#2c728e" stroke-width="1.8"/><line x1="718.9" y1="242.06" x2="722.98" y2="243.56" stroke="#27ad81" stroke-width="1.8"/><line x1="798.05" y1="241.56" x2="804.86" y2="244.06" stroke="#2a9d8a" stroke-width="1.8"/><line x1="799.42" y1="242.06" x2="803.5" y2="243.56" stroke="#fde725" stroke-width="1.8"/><line x1="719.75" y1="244.54" x2="726.95" y2="247.04" stroke="#2a9d8a" stroke-width="1.8"/><line x1="721.19" y1="245.04" x2="725.51" y2="246.54" stroke="#fde725" stroke-width="1.8"/><line x1="795.45" y1="244.54" x2="802.65" y2="247.04" stroke="#2a9d8a" stroke-width="1.8"/><line x1="796.89" y1="245.04" x2="801.21" y2="246.54" stroke="#fde725" stroke-width="1.8"/><line x1="722.35" y1="247.51" x2="730.02" y2="250.01" stroke="#2a9d8a" stroke-width="1.8"/><line x1="723.88" y1="248.01" x2="728.49" y2="249.51" stroke="#fde725" stroke-width="1.8"/><line x1="792.38" y1="247.51" x2="800.05" y2="250.01" stroke="#2a9d8a" stroke-width="1.8"/><line x1="793.91" y1="248.01" x2="798.52" y2="249.51" stroke="#fde725" stroke-width="1.8"/><line x1="725.42" y1="250.49" x2="733.73" y2="252.99" stroke="#2a9d8a" stroke-width="1.8"/><line x1="727.08" y1="250.99" x2="732.07" y2="252.49" stroke="#fde725" stroke-width="1.8"/><line x1="788.67" y1="250.49" x2="796.98" y2="252.99" stroke="#2c728e" stroke-width="1.8"/><line x1="790.33" y1="250.99" x2="795.32" y2="252.49" stroke="#27ad81" stroke-width="1.8"/><line x1="729.13" y1="253.46" x2="738.33" y2="255.96" stroke="#2c728e" stroke-width="1.8"/><line x1="730.97" y1="253.96" x2="736.49" y2="255.46" stroke="#27ad81" stroke-width="1.8"/><line x1="784.07" y1="253.46" x2="793.27" y2="255.96" stroke="#2a9d8a" stroke-width="1.8"/><line x1="785.91" y1="253.96" x2="791.43" y2="255.46" stroke="#fde725" stroke-width="1.8"/><line x1="733.73" y1="256.44" x2="744.48" y2="258.94" stroke="#2a9d8a" stroke-width="1.8"/><line x1="735.88" y1="256.94" x2="742.33" y2="258.44" stroke="#fde725" stroke-width="1.8"/><line x1="777.92" y1="256.44" x2="788.67" y2="258.94" stroke="#2a9d8a" stroke-width="1.8"/><line x1="780.07" y1="256.94" x2="786.52" y2="258.44" stroke="#fde725" stroke-width="1.8"/><line x1="739.88" y1="259.41" x2="755.07" y2="261.91" stroke="#2c728e" stroke-width="1.8"/><line x1="742.92" y1="259.91" x2="752.03" y2="261.41" stroke="#27ad81" stroke-width="1.8"/><line x1="767.33" y1="259.41" x2="782.52" y2="261.91" stroke="#2a9d8a" stroke-width="1.8"/><line x1="770.37" y1="259.91" x2="779.48" y2="261.41" stroke="#fde725" stroke-width="1.8"/><line x1="752.27" y1="262.15" x2="770.13" y2="262.15" stroke="#3dbc74" stroke-width="2.52"/></g>
<rect x="634.3" y="82.9" width="256.9" height="256.4" fill="none" stroke="#000" stroke-width="1.45"/>
<line x1="645.7" y1="339.3" x2="645.7" y2="344.3" stroke="#000" stroke-width="1.45"/>
<text x="645.7" y="366.5" font-family="'Liberation Sans', Arial, Helvetica, sans-serif" font-size="23.4" font-weight="normal" text-anchor="middle" fill="#000" stroke="#000" stroke-width="0.35">0</text>
<line x1="763.6" y1="339.3" x2="763.6" y2="344.3" stroke="#000" stroke-width="1.45"/>
<text x="763.6" y="366.5" font-family="'Liberation Sans', Arial, Helvetica, sans-serif" font-size="23.4" font-weight="normal" text-anchor="middle" fill="#000" stroke="#000" stroke-width="0.35">10</text>
<line x1="881.9" y1="339.3" x2="881.9" y2="344.3" stroke="#000" stroke-width="1.45"/>
<text x="881.9" y="366.5" font-family="'Liberation Sans', Arial, Helvetica, sans-serif" font-size="23.4" font-weight="normal" text-anchor="middle" fill="#000" stroke="#000" stroke-width="0.35">20</text>
<line x1="629.3" y1="328" x2="634.3" y2="328" stroke="#000" stroke-width="1.45"/>
<text x="624" y="336.4" font-family="'Liberation Sans', Arial, Helvetica, sans-serif" font-size="23.4" font-weight="normal" text-anchor="end" fill="#000" stroke="#000" stroke-width="0.35">0</text>
<line x1="629.3" y1="209.3" x2="634.3" y2="209.3" stroke="#000" stroke-width="1.45"/>
<text x="624" y="217.7" font-family="'Liberation Sans', Arial, Helvetica, sans-serif" font-size="23.4" font-weight="normal" text-anchor="end" fill="#000" stroke="#000" stroke-width="0.35">10</text>
<line x1="629.3" y1="90.4" x2="634.3" y2="90.4" stroke="#000" stroke-width="1.45"/>
<text x="624" y="98.8" font-family="'Liberation Sans', Arial, Helvetica, sans-serif" font-size="23.4" font-weight="normal" text-anchor="end" fill="#000" stroke="#000" stroke-width="0.35">20</text>
<text x="762.75" y="73.7" font-family="'Liberation Sans', Arial, Helvetica, sans-serif" font-size="27.6" font-weight="normal" text-anchor="middle" fill="#000" stroke="#000" stroke-width="0.35">Time = 0.2 s</text>
<text x="762.75" y="393.8" font-family="'Liberation Sans', Arial, Helvetica, sans-serif" font-size="23.4" font-weight="normal" text-anchor="middle" fill="#000" stroke="#000" stroke-width="0.35">X (μm)</text>
<text x="588.5" y="211.1" font-family="'Liberation Sans', Arial, Helvetica, sans-serif" font-size="23.4" font-weight="normal" text-anchor="middle" fill="#000" transform="rotate(-90 588.5 211.1)" stroke="#000" stroke-width="0.35">Y (μm)</text>
<rect x="901.5" y="82.9" width="12.3" height="256.4" fill="url(#virV)"/>
<rect x="901.5" y="82.9" width="12.3" height="256.4" fill="none" stroke="#000" stroke-width="1.45"/>
<line x1="913.8" y1="339.3" x2="918.8" y2="339.3" stroke="#000" stroke-width="1.45"/>
<text x="924.2" y="347.7" font-family="'Liberation Sans', Arial, Helvetica, sans-serif" font-size="23.4" font-weight="normal" text-anchor="start" fill="#000" stroke="#000" stroke-width="0.35">0</text>
<line x1="913.8" y1="282.23" x2="918.8" y2="282.23" stroke="#000" stroke-width="1.45"/>
<text x="924.2" y="290.63" font-family="'Liberation Sans', Arial, Helvetica, sans-serif" font-size="23.4" font-weight="normal" text-anchor="start" fill="#000" stroke="#000" stroke-width="0.35">2</text>
<line x1="913.8" y1="225.15" x2="918.8" y2="225.15" stroke="#000" stroke-width="1.45"/>
<text x="924.2" y="233.55" font-family="'Liberation Sans', Arial, Helvetica, sans-serif" font-size="23.4" font-weight="normal" text-anchor="start" fill="#000" stroke="#000" stroke-width="0.35">4</text>
<line x1="913.8" y1="168.08" x2="918.8" y2="168.08" stroke="#000" stroke-width="1.45"/>
<text x="924.2" y="176.48" font-family="'Liberation Sans', Arial, Helvetica, sans-serif" font-size="23.4" font-weight="normal" text-anchor="start" fill="#000" stroke="#000" stroke-width="0.35">6</text>
<line x1="913.8" y1="111.01" x2="918.8" y2="111.01" stroke="#000" stroke-width="1.45"/>
<text x="924.2" y="119.41" font-family="'Liberation Sans', Arial, Helvetica, sans-serif" font-size="23.4" font-weight="normal" text-anchor="start" fill="#000" stroke="#000" stroke-width="0.35">8</text>
</g>
<g id="hm2">
<rect x="641" y="475.9" width="243.6" height="243.6" rx="4.4" ry="4.4" fill="#440154"/>
<circle cx="761.2" cy="601.45" r="55.9" fill="url(#hm2g)"/>
<g stroke-linecap="butt"><line x1="752.3" y1="554.25" x2="770.1" y2="554.25" stroke="#25ac82" stroke-width="2.1"/><line x1="740.12" y1="554.62" x2="755" y2="556.83" stroke="#1f9e89" stroke-width="1.5"/><line x1="743.1" y1="555.07" x2="752.03" y2="556.38" stroke="#5ec962" stroke-width="1.5"/><line x1="767.4" y1="554.62" x2="782.28" y2="556.83" stroke="#1f9e89" stroke-width="1.5"/><line x1="734.03" y1="557.58" x2="744.52" y2="559.78" stroke="#1f9e89" stroke-width="1.5"/><line x1="736.13" y1="558.02" x2="742.42" y2="559.34" stroke="#5ec962" stroke-width="1.5"/><line x1="777.88" y1="557.58" x2="788.37" y2="559.78" stroke="#1f9e89" stroke-width="1.5"/><line x1="779.98" y1="558.02" x2="786.27" y2="559.34" stroke="#5ec962" stroke-width="1.5"/><line x1="729.46" y1="560.52" x2="738.43" y2="562.73" stroke="#1f9e89" stroke-width="1.5"/><line x1="731.25" y1="560.97" x2="736.63" y2="562.28" stroke="#5ec962" stroke-width="1.5"/><line x1="783.97" y1="560.52" x2="792.94" y2="562.73" stroke="#1f9e89" stroke-width="1.5"/><line x1="725.79" y1="563.48" x2="733.86" y2="565.68" stroke="#26828e" stroke-width="1.5"/><line x1="727.4" y1="563.92" x2="732.25" y2="565.24" stroke="#35b779" stroke-width="1.5"/><line x1="788.54" y1="563.48" x2="796.61" y2="565.68" stroke="#1f9e89" stroke-width="1.5"/><line x1="722.74" y1="566.43" x2="730.19" y2="568.63" stroke="#1f9e89" stroke-width="1.5"/><line x1="792.21" y1="566.43" x2="799.66" y2="568.63" stroke="#1f9e89" stroke-width="1.5"/><line x1="793.7" y1="566.87" x2="798.17" y2="568.19" stroke="#5ec962" stroke-width="1.5"/><line x1="720.16" y1="569.38" x2="727.14" y2="571.58" stroke="#26828e" stroke-width="1.5"/><line x1="721.55" y1="569.82" x2="725.74" y2="571.13" stroke="#35b779" stroke-width="1.5"/><line x1="795.26" y1="569.38" x2="802.24" y2="571.58" stroke="#1f9e89" stroke-width="1.5"/><line x1="717.97" y1="572.33" x2="724.56" y2="574.53" stroke="#1f9e89" stroke-width="1.5"/><line x1="719.28" y1="572.77" x2="723.24" y2="574.09" stroke="#5ec962" stroke-width="1.5"/><line x1="797.84" y1="572.33" x2="804.43" y2="574.53" stroke="#26828e" stroke-width="1.5"/><line x1="799.16" y1="572.77" x2="803.12" y2="574.09" stroke="#35b779" stroke-width="1.5"/><line x1="716.1" y1="575.27" x2="722.37" y2="577.48" stroke="#1f9e89" stroke-width="1.5"/><line x1="717.35" y1="575.72" x2="721.11" y2="577.03" stroke="#5ec962" stroke-width="1.5"/><line x1="800.03" y1="575.27" x2="806.3" y2="577.48" stroke="#1f9e89" stroke-width="1.5"/><line x1="714.52" y1="578.23" x2="720.5" y2="580.43" stroke="#1f9e89" stroke-width="1.5"/><line x1="715.71" y1="578.67" x2="719.3" y2="579.99" stroke="#5ec962" stroke-width="1.5"/><line x1="801.9" y1="578.23" x2="807.88" y2="580.43" stroke="#1f9e89" stroke-width="1.5"/><line x1="803.1" y1="578.67" x2="806.69" y2="579.99" stroke="#5ec962" stroke-width="1.5"/><line x1="713.19" y1="581.18" x2="718.92" y2="583.38" stroke="#26828e" stroke-width="1.5"/><line x1="714.33" y1="581.62" x2="717.77" y2="582.94" stroke="#35b779" stroke-width="1.5"/><line x1="803.48" y1="581.18" x2="809.21" y2="583.38" stroke="#1f9e89" stroke-width="1.5"/><line x1="804.63" y1="581.62" x2="808.07" y2="582.94" stroke="#5ec962" stroke-width="1.5"/><line x1="712.1" y1="584.12" x2="717.59" y2="586.33" stroke="#1f9e89" stroke-width="1.5"/><line x1="713.19" y1="584.57" x2="716.49" y2="585.88" stroke="#5ec962" stroke-width="1.5"/><line x1="804.81" y1="584.12" x2="810.3" y2="586.33" stroke="#26828e" stroke-width="1.5"/><line x1="805.91" y1="584.57" x2="809.21" y2="585.88" stroke="#35b779" stroke-width="1.5"/><line x1="711.22" y1="587.08" x2="716.5" y2="589.28" stroke="#1f9e89" stroke-width="1.5"/><line x1="712.27" y1="587.52" x2="715.44" y2="588.84" stroke="#5ec962" stroke-width="1.5"/><line x1="805.9" y1="587.08" x2="811.18" y2="589.28" stroke="#26828e" stroke-width="1.5"/><line x1="806.96" y1="587.52" x2="810.13" y2="588.84" stroke="#35b779" stroke-width="1.5"/><line x1="710.55" y1="590.02" x2="715.62" y2="592.23" stroke="#1f9e89" stroke-width="1.5"/><line x1="806.78" y1="590.02" x2="811.85" y2="592.23" stroke="#1f9e89" stroke-width="1.5"/><line x1="807.79" y1="590.47" x2="810.84" y2="591.78" stroke="#5ec962" stroke-width="1.5"/><line x1="710.08" y1="592.98" x2="714.95" y2="595.18" stroke="#1f9e89" stroke-width="1.5"/><line x1="807.45" y1="592.98" x2="812.32" y2="595.18" stroke="#1f9e89" stroke-width="1.5"/><line x1="709.79" y1="595.93" x2="714.48" y2="598.13" stroke="#1f9e89" stroke-width="1.5"/><line x1="807.92" y1="595.93" x2="812.61" y2="598.13" stroke="#1f9e89" stroke-width="1.5"/><line x1="709.7" y1="598.88" x2="714.19" y2="601.08" stroke="#1f9e89" stroke-width="1.5"/><line x1="808.21" y1="598.88" x2="812.7" y2="601.08" stroke="#1f9e89" stroke-width="1.5"/><line x1="709.7" y1="601.83" x2="714.19" y2="604.03" stroke="#1f9e89" stroke-width="1.5"/><line x1="808.21" y1="601.83" x2="812.7" y2="604.03" stroke="#1f9e89" stroke-width="1.5"/><line x1="709.79" y1="604.77" x2="714.48" y2="606.98" stroke="#1f9e89" stroke-width="1.5"/><line x1="807.92" y1="604.77" x2="812.61" y2="606.98" stroke="#1f9e89" stroke-width="1.5"/><line x1="710.08" y1="607.73" x2="714.95" y2="609.93" stroke="#1f9e89" stroke-width="1.5"/><line x1="807.45" y1="607.73" x2="812.32" y2="609.93" stroke="#1f9e89" stroke-width="1.5"/><line x1="710.55" y1="610.68" x2="715.62" y2="612.88" stroke="#1f9e89" stroke-width="1.5"/><line x1="711.56" y1="611.12" x2="714.61" y2="612.44" stroke="#5ec962" stroke-width="1.5"/><line x1="806.78" y1="610.68" x2="811.85" y2="612.88" stroke="#1f9e89" stroke-width="1.5"/><line x1="807.79" y1="611.12" x2="810.84" y2="612.44" stroke="#5ec962" stroke-width="1.5"/><line x1="711.22" y1="613.62" x2="716.5" y2="615.83" stroke="#1f9e89" stroke-width="1.5"/><line x1="712.27" y1="614.07" x2="715.44" y2="615.38" stroke="#5ec962" stroke-width="1.5"/><line x1="805.9" y1="613.62" x2="811.18" y2="615.83" stroke="#1f9e89" stroke-width="1.5"/><line x1="806.96" y1="614.07" x2="810.13" y2="615.38" stroke="#5ec962" stroke-width="1.5"/><line x1="712.1" y1="616.58" x2="717.59" y2="618.78" stroke="#1f9e89" stroke-width="1.5"/><line x1="804.81" y1="616.58" x2="810.3" y2="618.78" stroke="#1f9e89" stroke-width="1.5"/><line x1="805.91" y1="617.02" x2="809.21" y2="618.34" stroke="#5ec962" stroke-width="1.5"/><line x1="713.19" y1="619.52" x2="718.92" y2="621.73" stroke="#1f9e89" stroke-width="1.5"/><line x1="714.33" y1="619.97" x2="717.77" y2="621.28" stroke="#5ec962" stroke-width="1.5"/><line x1="803.48" y1="619.52" x2="809.21" y2="621.73" stroke="#26828e" stroke-width="1.5"/><line x1="804.63" y1="619.97" x2="808.07" y2="621.28" stroke="#35b779" stroke-width="1.5"/><line x1="714.52" y1="622.48" x2="720.5" y2="624.68" stroke="#26828e" stroke-width="1.5"/><line x1="715.71" y1="622.92" x2="719.3" y2="624.24" stroke="#35b779" stroke-width="1.5"/><line x1="801.9" y1="622.48" x2="807.88" y2="624.68" stroke="#1f9e89" stroke-width="1.5"/><line x1="803.1" y1="622.92" x2="806.69" y2="624.24" stroke="#5ec962" stroke-width="1.5"/><line x1="716.1" y1="625.43" x2="722.37" y2="627.63" stroke="#1f9e89" stroke-width="1.5"/><line x1="717.35" y1="625.87" x2="721.11" y2="627.19" stroke="#5ec962" stroke-width="1.5"/><line x1="800.03" y1="625.43" x2="806.3" y2="627.63" stroke="#1f9e89" stroke-width="1.5"/><line x1="717.97" y1="628.38" x2="724.56" y2="630.58" stroke="#1f9e89" stroke-width="1.5"/><line x1="797.84" y1="628.38" x2="804.43" y2="630.58" stroke="#1f9e89" stroke-width="1.5"/><line x1="799.16" y1="628.82" x2="803.12" y2="630.13" stroke="#5ec962" stroke-width="1.5"/><line x1="720.16" y1="631.33" x2="727.14" y2="633.53" stroke="#26828e" stroke-width="1.5"/><line x1="721.55" y1="631.77" x2="725.74" y2="633.09" stroke="#35b779" stroke-width="1.5"/><line x1="795.26" y1="631.33" x2="802.24" y2="633.53" stroke="#1f9e89" stroke-width="1.5"/><line x1="796.66" y1="631.77" x2="800.85" y2="633.09" stroke="#5ec962" stroke-width="1.5"/><line x1="722.74" y1="634.27" x2="730.19" y2="636.48" stroke="#1f9e89" stroke-width="1.5"/><line x1="792.21" y1="634.27" x2="799.66" y2="636.48" stroke="#1f9e89" stroke-width="1.5"/><line x1="793.7" y1="634.72" x2="798.17" y2="636.03" stroke="#5ec962" stroke-width="1.5"/><line x1="725.79" y1="637.23" x2="733.86" y2="639.43" stroke="#1f9e89" stroke-width="1.5"/><line x1="727.4" y1="637.67" x2="732.25" y2="638.99" stroke="#5ec962" stroke-width="1.5"/><line x1="788.54" y1="637.23" x2="796.61" y2="639.43" stroke="#26828e" stroke-width="1.5"/><line x1="790.15" y1="637.67" x2="795" y2="638.99" stroke="#35b779" stroke-width="1.5"/><line x1="729.46" y1="640.18" x2="738.43" y2="642.38" stroke="#1f9e89" stroke-width="1.5"/><line x1="731.25" y1="640.62" x2="736.63" y2="641.94" stroke="#5ec962" stroke-width="1.5"/><line x1="783.97" y1="640.18" x2="792.94" y2="642.38" stroke="#1f9e89" stroke-width="1.5"/><line x1="785.77" y1="640.62" x2="791.15" y2="641.94" stroke="#5ec962" stroke-width="1.5"/><line x1="734.03" y1="643.12" x2="744.52" y2="645.33" stroke="#1f9e89" stroke-width="1.5"/><line x1="736.13" y1="643.57" x2="742.42" y2="644.88" stroke="#5ec962" stroke-width="1.5"/><line x1="777.88" y1="643.12" x2="788.37" y2="645.33" stroke="#26828e" stroke-width="1.5"/><line x1="779.98" y1="643.57" x2="786.27" y2="644.88" stroke="#35b779" stroke-width="1.5"/><line x1="740.12" y1="646.08" x2="755" y2="648.28" stroke="#1f9e89" stroke-width="1.5"/><line x1="743.1" y1="646.52" x2="752.03" y2="647.84" stroke="#5ec962" stroke-width="1.5"/><line x1="767.4" y1="646.08" x2="782.28" y2="648.28" stroke="#1f9e89" stroke-width="1.5"/><line x1="770.37" y1="646.52" x2="779.3" y2="647.84" stroke="#5ec962" stroke-width="1.5"/><line x1="752.3" y1="648.65" x2="770.1" y2="648.65" stroke="#25ac82" stroke-width="2.1"/></g>
<rect x="634.3" y="469.8" width="256.9" height="256.4" fill="none" stroke="#000" stroke-width="1.45"/>
<line x1="645.7" y1="726.2" x2="645.7" y2="731.2" stroke="#000" stroke-width="1.45"/>
<text x="645.7" y="753.4" font-family="'Liberation Sans', Arial, Helvetica, sans-serif" font-size="23.4" font-weight="normal" text-anchor="middle" fill="#000" stroke="#000" stroke-width="0.35">0</text>
<line x1="763.6" y1="726.2" x2="763.6" y2="731.2" stroke="#000" stroke-width="1.45"/>
<text x="763.6" y="753.4" font-family="'Liberation Sans', Arial, Helvetica, sans-serif" font-size="23.4" font-weight="normal" text-anchor="middle" fill="#000" stroke="#000" stroke-width="0.35">10</text>
<line x1="881.9" y1="726.2" x2="881.9" y2="731.2" stroke="#000" stroke-width="1.45"/>
<text x="881.9" y="753.4" font-family="'Liberation Sans', Arial, Helvetica, sans-serif" font-size="23.4" font-weight="normal" text-anchor="middle" fill="#000" stroke="#000" stroke-width="0.35">20</text>
<line x1="629.3" y1="714.9" x2="634.3" y2="714.9" stroke="#000" stroke-width="1.45"/>
<text x="624" y="723.3" font-family="'Liberation Sans', Arial, Helvetica, sans-serif" font-size="23.4" font-weight="normal" text-anchor="end" fill="#000" stroke="#000" stroke-width="0.35">0</text>
<line x1="629.3" y1="596.2" x2="634.3" y2="596.2" stroke="#000" stroke-width="1.45"/>
<text x="624" y="604.6" font-family="'Liberation Sans', Arial, Helvetica, sans-serif" font-size="23.4" font-weight="normal" text-anchor="end" fill="#000" stroke="#000" stroke-width="0.35">10</text>
<line x1="629.3" y1="477.3" x2="634.3" y2="477.3" stroke="#000" stroke-width="1.45"/>
<text x="624" y="485.7" font-family="'Liberation Sans', Arial, Helvetica, sans-serif" font-size="23.4" font-weight="normal" text-anchor="end" fill="#000" stroke="#000" stroke-width="0.35">20</text>
<text x="762.75" y="460.6" font-family="'Liberation Sans', Arial, Helvetica, sans-serif" font-size="27.6" font-weight="normal" text-anchor="middle" fill="#000" stroke="#000" stroke-width="0.35">Time = 20 s</text>
<text x="762.75" y="780.7" font-family="'Liberation Sans', Arial, Helvetica, sans-serif" font-size="23.4" font-weight="normal" text-anchor="middle" fill="#000" stroke="#000" stroke-width="0.35">X (μm)</text>
<text x="588.5" y="598" font-family="'Liberation Sans', Arial, Helvetica, sans-serif" font-size="23.4" font-weight="normal" text-anchor="middle" fill="#000" transform="rotate(-90 588.5 598)" stroke="#000" stroke-width="0.35">Y (μm)</text>
<rect x="901.5" y="469.8" width="12.3" height="256.4" fill="url(#virV)"/>
<rect x="901.5" y="469.8" width="12.3" height="256.4" fill="none" stroke="#000" stroke-width="1.45"/>
<line x1="913.8" y1="726.2" x2="918.8" y2="726.2" stroke="#000" stroke-width="1.45"/>
<text x="924.2" y="734.6" font-family="'Liberation Sans', Arial, Helvetica, sans-serif" font-size="23.4" font-weight="normal" text-anchor="start" fill="#000" stroke="#000" stroke-width="0.35">0</text>
<line x1="913.8" y1="669.13" x2="918.8" y2="669.13" stroke="#000" stroke-width="1.45"/>
<text x="924.2" y="677.53" font-family="'Liberation Sans', Arial, Helvetica, sans-serif" font-size="23.4" font-weight="normal" text-anchor="start" fill="#000" stroke="#000" stroke-width="0.35">2</text>
<line x1="913.8" y1="612.05" x2="918.8" y2="612.05" stroke="#000" stroke-width="1.45"/>
<text x="924.2" y="620.45" font-family="'Liberation Sans', Arial, Helvetica, sans-serif" font-size="23.4" font-weight="normal" text-anchor="start" fill="#000" stroke="#000" stroke-width="0.35">4</text>
<line x1="913.8" y1="554.98" x2="918.8" y2="554.98" stroke="#000" stroke-width="1.45"/>
<text x="924.2" y="563.38" font-family="'Liberation Sans', Arial, Helvetica, sans-serif" font-size="23.4" font-weight="normal" text-anchor="start" fill="#000" stroke="#000" stroke-width="0.35">6</text>
<line x1="913.8" y1="497.91" x2="918.8" y2="497.91" stroke="#000" stroke-width="1.45"/>
<text x="924.2" y="506.31" font-family="'Liberation Sans', Arial, Helvetica, sans-serif" font-size="23.4" font-weight="normal" text-anchor="start" fill="#000" stroke="#000" stroke-width="0.35">8</text>
</g>
<g id="hm3">
<rect x="1037.3" y="99.9" width="221.7" height="222.1" rx="4.4" ry="4.4" fill="url(#hm3g)"/>
<rect x="1037.3" y="99.9" width="221.7" height="222.1" rx="4.4" ry="4.4" fill="url(#hm3h)"/>
<path d="M1154.01,172.1 L1154.01,172.8 L1157.29,172.8 L1160.89,175.71 L1164.45,175.71 L1167.46,178.62 L1169.61,178.62 L1172.66,181.53 L1172.53,181.53 L1175.58,184.44 L1177.04,184.44 L1178.89,187.35 L1178.1,187.35 L1181.32,190.26 L1179.86,190.26 L1183.13,193.17 L1182.18,193.17 L1184.94,196.08 L1183.69,196.08 L1187.53,198.99 L1185.03,198.99 L1187.65,201.9 L1186.23,201.9 L1189.04,204.81 L1186.35,204.81 L1188.72,207.72 L1186.4,207.72 L1190.57,210.63 L1187.01,210.63 L1190.51,213.54 L1186.54,213.54 L1190.42,216.46 L1186.79,216.46 L1190.64,219.37 L1187.1,219.37 L1189.01,222.28 L1185.64,222.28 L1188.95,225.19 L1184.9,225.19 L1188.94,228.1 L1185.59,228.1 L1187.94,231.01 L1182.79,231.01 L1186.43,233.92 L1183.1,233.92 L1185.27,236.83 L1180.35,236.83 L1184.33,239.74 L1179.07,239.74 L1181.3,242.65 L1175.6,242.65 L1178.22,245.56 L1173.35,245.56 L1176.5,248.47 L1169.15,248.47 L1171.83,251.38 L1164.44,251.38 L1167.21,254.29 L1158.58,254.29 L1161.75,257.2 L1154.01,257.2 L1154.01,257.9 L1138.79,257.9 L1138.79,257.2 L1134.22,257.2 L1131.05,254.29 L1128.36,254.29 L1125.59,251.38 L1123.65,251.38 L1120.97,248.47 L1119.45,248.47 L1116.3,245.56 L1117.2,245.56 L1114.58,242.65 L1113.73,242.65 L1111.5,239.74 L1112.45,239.74 L1108.47,236.83 L1109.7,236.83 L1107.53,233.92 L1110.01,233.92 L1106.37,231.01 L1107.21,231.01 L1104.86,228.1 L1107.9,228.1 L1103.86,225.19 L1107.16,225.19 L1103.85,222.28 L1105.7,222.28 L1103.79,219.37 L1106.01,219.37 L1102.16,216.46 L1106.26,216.46 L1102.38,213.54 L1105.79,213.54 L1102.29,210.63 L1106.4,210.63 L1102.23,207.72 L1106.45,207.72 L1104.08,204.81 L1106.57,204.81 L1103.76,201.9 L1107.77,201.9 L1105.15,198.99 L1109.11,198.99 L1105.27,196.08 L1110.62,196.08 L1107.86,193.17 L1112.94,193.17 L1109.67,190.26 L1114.7,190.26 L1111.48,187.35 L1115.76,187.35 L1113.91,184.44 L1120.27,184.44 L1117.22,181.53 L1123.19,181.53 L1120.14,178.62 L1128.35,178.62 L1125.34,175.71 L1135.51,175.71 L1131.91,172.8 L1138.79,172.8 L1138.79,172.1Z" fill="#440154"/>
<rect x="1032.2" y="95" width="232.5" height="232.2" fill="none" stroke="#000" stroke-width="1.45"/>
<line x1="1042.6" y1="327.2" x2="1042.6" y2="332.2" stroke="#000" stroke-width="1.45"/>
<text x="1042.6" y="354.4" font-family="'Liberation Sans', Arial, Helvetica, sans-serif" font-size="23.4" font-weight="normal" text-anchor="middle" fill="#000" stroke="#000" stroke-width="0.35">0</text>
<line x1="1149.6" y1="327.2" x2="1149.6" y2="332.2" stroke="#000" stroke-width="1.45"/>
<text x="1149.6" y="354.4" font-family="'Liberation Sans', Arial, Helvetica, sans-serif" font-size="23.4" font-weight="normal" text-anchor="middle" fill="#000" stroke="#000" stroke-width="0.35">10</text>
<line x1="1256.8" y1="327.2" x2="1256.8" y2="332.2" stroke="#000" stroke-width="1.45"/>
<text x="1256.8" y="354.4" font-family="'Liberation Sans', Arial, Helvetica, sans-serif" font-size="23.4" font-weight="normal" text-anchor="middle" fill="#000" stroke="#000" stroke-width="0.35">20</text>
<line x1="1027.2" y1="316.8" x2="1032.2" y2="316.8" stroke="#000" stroke-width="1.45"/>
<text x="1021.9" y="325.2" font-family="'Liberation Sans', Arial, Helvetica, sans-serif" font-size="23.4" font-weight="normal" text-anchor="end" fill="#000" stroke="#000" stroke-width="0.35">0</text>
<line x1="1027.2" y1="209.5" x2="1032.2" y2="209.5" stroke="#000" stroke-width="1.45"/>
<text x="1021.9" y="217.9" font-family="'Liberation Sans', Arial, Helvetica, sans-serif" font-size="23.4" font-weight="normal" text-anchor="end" fill="#000" stroke="#000" stroke-width="0.35">10</text>
<line x1="1027.2" y1="102.5" x2="1032.2" y2="102.5" stroke="#000" stroke-width="1.45"/>
<text x="1021.9" y="110.9" font-family="'Liberation Sans', Arial, Helvetica, sans-serif" font-size="23.4" font-weight="normal" text-anchor="end" fill="#000" stroke="#000" stroke-width="0.35">20</text>
<text x="1148.45" y="85.8" font-family="'Liberation Sans', Arial, Helvetica, sans-serif" font-size="27.6" font-weight="normal" text-anchor="middle" fill="#000" stroke="#000" stroke-width="0.35">Time = 0.2 s</text>
<text x="1148.45" y="381.7" font-family="'Liberation Sans', Arial, Helvetica, sans-serif" font-size="23.4" font-weight="normal" text-anchor="middle" fill="#000" stroke="#000" stroke-width="0.35">X (μm)</text>
<text x="986.4" y="211.1" font-family="'Liberation Sans', Arial, Helvetica, sans-serif" font-size="23.4" font-weight="normal" text-anchor="middle" fill="#000" transform="rotate(-90 986.4 211.1)" stroke="#000" stroke-width="0.35">Y (μm)</text>
<rect x="1274.7" y="95" width="12.1" height="232.2" fill="url(#virV)"/>
<rect x="1274.7" y="95" width="12.1" height="232.2" fill="none" stroke="#000" stroke-width="1.45"/>
<line x1="1286.8" y1="327.2" x2="1291.8" y2="327.2" stroke="#000" stroke-width="1.45"/>
<text x="1297.2" y="335.6" font-family="'Liberation Sans', Arial, Helvetica, sans-serif" font-size="23.4" font-weight="normal" text-anchor="start" fill="#000" stroke="#000" stroke-width="0.35">0</text>
<line x1="1286.8" y1="280.76" x2="1291.8" y2="280.76" stroke="#000" stroke-width="1.45"/>
<text x="1297.2" y="289.16" font-family="'Liberation Sans', Arial, Helvetica, sans-serif" font-size="23.4" font-weight="normal" text-anchor="start" fill="#000" stroke="#000" stroke-width="0.35">20</text>
<line x1="1286.8" y1="234.32" x2="1291.8" y2="234.32" stroke="#000" stroke-width="1.45"/>
<text x="1297.2" y="242.72" font-family="'Liberation Sans', Arial, Helvetica, sans-serif" font-size="23.4" font-weight="normal" text-anchor="start" fill="#000" stroke="#000" stroke-width="0.35">40</text>
<line x1="1286.8" y1="187.88" x2="1291.8" y2="187.88" stroke="#000" stroke-width="1.45"/>
<text x="1297.2" y="196.28" font-family="'Liberation Sans', Arial, Helvetica, sans-serif" font-size="23.4" font-weight="normal" text-anchor="start" fill="#000" stroke="#000" stroke-width="0.35">60</text>
<line x1="1286.8" y1="141.44" x2="1291.8" y2="141.44" stroke="#000" stroke-width="1.45"/>
<text x="1297.2" y="149.84" font-family="'Liberation Sans', Arial, Helvetica, sans-serif" font-size="23.4" font-weight="normal" text-anchor="start" fill="#000" stroke="#000" stroke-width="0.35">80</text>
<line x1="1286.8" y1="95" x2="1291.8" y2="95" stroke="#000" stroke-width="1.45"/>
<text x="1297.2" y="103.4" font-family="'Liberation Sans', Arial, Helvetica, sans-serif" font-size="23.4" font-weight="normal" text-anchor="start" fill="#000" stroke="#000" stroke-width="0.35">100</text>
</g>
<g id="hm4">
<rect x="1037.3" y="486.7" width="221.7" height="222.1" rx="4.4" ry="4.4" fill="url(#hm4g)"/>
<path d="M1154.01,558.9 L1154.01,559.6 L1157.29,559.6 L1160.89,562.51 L1164.45,562.51 L1167.46,565.42 L1169.61,565.42 L1172.66,568.33 L1172.53,568.33 L1175.58,571.24 L1177.04,571.24 L1178.89,574.15 L1178.1,574.15 L1181.32,577.06 L1179.86,577.06 L1183.13,579.97 L1182.18,579.97 L1184.94,582.88 L1183.69,582.88 L1187.53,585.79 L1185.03,585.79 L1187.65,588.7 L1186.23,588.7 L1189.04,591.61 L1186.35,591.61 L1188.72,594.52 L1186.4,594.52 L1190.57,597.43 L1187.01,597.43 L1190.51,600.34 L1186.54,600.34 L1190.42,603.26 L1186.79,603.26 L1190.64,606.17 L1187.1,606.17 L1189.01,609.08 L1185.64,609.08 L1188.95,611.99 L1184.9,611.99 L1188.94,614.9 L1185.59,614.9 L1187.94,617.81 L1182.79,617.81 L1186.43,620.72 L1183.1,620.72 L1185.27,623.63 L1180.35,623.63 L1184.33,626.54 L1179.07,626.54 L1181.3,629.45 L1175.6,629.45 L1178.22,632.36 L1173.35,632.36 L1176.5,635.27 L1169.15,635.27 L1171.83,638.18 L1164.44,638.18 L1167.21,641.09 L1158.58,641.09 L1161.75,644 L1154.01,644 L1154.01,644.7 L1138.79,644.7 L1138.79,644 L1134.22,644 L1131.05,641.09 L1128.36,641.09 L1125.59,638.18 L1123.65,638.18 L1120.97,635.27 L1119.45,635.27 L1116.3,632.36 L1117.2,632.36 L1114.58,629.45 L1113.73,629.45 L1111.5,626.54 L1112.45,626.54 L1108.47,623.63 L1109.7,623.63 L1107.53,620.72 L1110.01,620.72 L1106.37,617.81 L1107.21,617.81 L1104.86,614.9 L1107.9,614.9 L1103.86,611.99 L1107.16,611.99 L1103.85,609.08 L1105.7,609.08 L1103.79,606.17 L1106.01,606.17 L1102.16,603.26 L1106.26,603.26 L1102.38,600.34 L1105.79,600.34 L1102.29,597.43 L1106.4,597.43 L1102.23,594.52 L1106.45,594.52 L1104.08,591.61 L1106.57,591.61 L1103.76,588.7 L1107.77,588.7 L1105.15,585.79 L1109.11,585.79 L1105.27,582.88 L1110.62,582.88 L1107.86,579.97 L1112.94,579.97 L1109.67,577.06 L1114.7,577.06 L1111.48,574.15 L1115.76,574.15 L1113.91,571.24 L1120.27,571.24 L1117.22,568.33 L1123.19,568.33 L1120.14,565.42 L1128.35,565.42 L1125.34,562.51 L1135.51,562.51 L1131.91,559.6 L1138.79,559.6 L1138.79,558.9Z" fill="#440154"/>
<rect x="1032.2" y="481.8" width="232.5" height="232.2" fill="none" stroke="#000" stroke-width="1.45"/>
<line x1="1042.6" y1="714" x2="1042.6" y2="719" stroke="#000" stroke-width="1.45"/>
<text x="1042.6" y="741.2" font-family="'Liberation Sans', Arial, Helvetica, sans-serif" font-size="23.4" font-weight="normal" text-anchor="middle" fill="#000" stroke="#000" stroke-width="0.35">0</text>
<line x1="1149.6" y1="714" x2="1149.6" y2="719" stroke="#000" stroke-width="1.45"/>
<text x="1149.6" y="741.2" font-family="'Liberation Sans', Arial, Helvetica, sans-serif" font-size="23.4" font-weight="normal" text-anchor="middle" fill="#000" stroke="#000" stroke-width="0.35">10</text>
<line x1="1256.8" y1="714" x2="1256.8" y2="719" stroke="#000" stroke-width="1.45"/>
<text x="1256.8" y="741.2" font-family="'Liberation Sans', Arial, Helvetica, sans-serif" font-size="23.4" font-weight="normal" text-anchor="middle" fill="#000" stroke="#000" stroke-width="0.35">20</text>
<line x1="1027.2" y1="703.6" x2="1032.2" y2="703.6" stroke="#000" stroke-width="1.45"/>
<text x="1021.9" y="712" font-family="'Liberation Sans', Arial, Helvetica, sans-serif" font-size="23.4" font-weight="normal" text-anchor="end" fill="#000" stroke="#000" stroke-width="0.35">0</text>
<line x1="1027.2" y1="596.3" x2="1032.2" y2="596.3" stroke="#000" stroke-width="1.45"/>
<text x="1021.9" y="604.7" font-family="'Liberation Sans', Arial, Helvetica, sans-serif" font-size="23.4" font-weight="normal" text-anchor="end" fill="#000" stroke="#000" stroke-width="0.35">10</text>
<line x1="1027.2" y1="489.3" x2="1032.2" y2="489.3" stroke="#000" stroke-width="1.45"/>
<text x="1021.9" y="497.7" font-family="'Liberation Sans', Arial, Helvetica, sans-serif" font-size="23.4" font-weight="normal" text-anchor="end" fill="#000" stroke="#000" stroke-width="0.35">20</text>
<text x="1148.45" y="472.6" font-family="'Liberation Sans', Arial, Helvetica, sans-serif" font-size="27.6" font-weight="normal" text-anchor="middle" fill="#000" stroke="#000" stroke-width="0.35">Time = 20 s</text>
<text x="1148.45" y="768.5" font-family="'Liberation Sans', Arial, Helvetica, sans-serif" font-size="23.4" font-weight="normal" text-anchor="middle" fill="#000" stroke="#000" stroke-width="0.35">X (μm)</text>
<text x="986.4" y="597.9" font-family="'Liberation Sans', Arial, Helvetica, sans-serif" font-size="23.4" font-weight="normal" text-anchor="middle" fill="#000" transform="rotate(-90 986.4 597.9)" stroke="#000" stroke-width="0.35">Y (μm)</text>
<rect x="1274.7" y="481.8" width="12.1" height="232.2" fill="url(#virV)"/>
<rect x="1274.7" y="481.8" width="12.1" height="232.2" fill="none" stroke="#000" stroke-width="1.45"/>
<line x1="1286.8" y1="714" x2="1291.8" y2="714" stroke="#000" stroke-width="1.45"/>
<text x="1297.2" y="722.4" font-family="'Liberation Sans', Arial, Helvetica, sans-serif" font-size="23.4" font-weight="normal" text-anchor="start" fill="#000" stroke="#000" stroke-width="0.35">0</text>
<line x1="1286.8" y1="667.56" x2="1291.8" y2="667.56" stroke="#000" stroke-width="1.45"/>
<text x="1297.2" y="675.96" font-family="'Liberation Sans', Arial, Helvetica, sans-serif" font-size="23.4" font-weight="normal" text-anchor="start" fill="#000" stroke="#000" stroke-width="0.35">20</text>
<line x1="1286.8" y1="621.12" x2="1291.8" y2="621.12" stroke="#000" stroke-width="1.45"/>
<text x="1297.2" y="629.52" font-family="'Liberation Sans', Arial, Helvetica, sans-serif" font-size="23.4" font-weight="normal" text-anchor="start" fill="#000" stroke="#000" stroke-width="0.35">40</text>
<line x1="1286.8" y1="574.68" x2="1291.8" y2="574.68" stroke="#000" stroke-width="1.45"/>
<text x="1297.2" y="583.08" font-family="'Liberation Sans', Arial, Helvetica, sans-serif" font-size="23.4" font-weight="normal" text-anchor="start" fill="#000" stroke="#000" stroke-width="0.35">60</text>
<line x1="1286.8" y1="528.24" x2="1291.8" y2="528.24" stroke="#000" stroke-width="1.45"/>
<text x="1297.2" y="536.64" font-family="'Liberation Sans', Arial, Helvetica, sans-serif" font-size="23.4" font-weight="normal" text-anchor="start" fill="#000" stroke="#000" stroke-width="0.35">80</text>
<line x1="1286.8" y1="481.8" x2="1291.8" y2="481.8" stroke="#000" stroke-width="1.45"/>
<text x="1297.2" y="490.2" font-family="'Liberation Sans', Arial, Helvetica, sans-serif" font-size="23.4" font-weight="normal" text-anchor="start" fill="#000" stroke="#000" stroke-width="0.35">100</text>
</g>
<g id="hm5">
<rect x="1444.3" y="99.9" width="221.7" height="222.1" rx="4.4" ry="4.4" fill="#440154"/>
<circle cx="1553" cy="215" r="109" fill="url(#hm5g)" clip-path="url(#cliphm5)"/>
<path d="M1560.57,172.1 L1560.57,172.8 L1564.73,172.8 L1568.61,175.71 L1570.45,175.71 L1574.32,178.62 L1576.45,178.62 L1578.79,181.53 L1579.57,181.53 L1583.65,184.44 L1581.61,184.44 L1585.75,187.35 L1585.14,187.35 L1588.64,190.26 L1586.05,190.26 L1590.91,193.17 L1588.78,193.17 L1592.09,196.08 L1589.99,196.08 L1593.55,198.99 L1590.83,198.99 L1593.83,201.9 L1590.83,201.9 L1596.11,204.81 L1592.49,204.81 L1596.93,207.72 L1592.3,207.72 L1597.22,210.63 L1593.05,210.63 L1597.92,213.54 L1594.2,213.54 L1596.61,216.46 L1592.8,216.46 L1596.99,219.37 L1591.96,219.37 L1597.07,222.28 L1592.72,222.28 L1595.69,225.19 L1590.83,225.19 L1595.44,228.1 L1591.07,228.1 L1593.83,231.01 L1588.49,231.01 L1593.54,233.92 L1588.16,233.92 L1590.99,236.83 L1586.4,236.83 L1589.72,239.74 L1584.61,239.74 L1588.61,242.65 L1582.5,242.65 L1585.9,245.56 L1579.53,245.56 L1583.04,248.47 L1575,248.47 L1579.01,251.38 L1571.42,251.38 L1574.05,254.29 L1564.48,254.29 L1568.7,257.2 L1560.57,257.2 L1560.57,257.9 L1545.43,257.9 L1545.43,257.2 L1541.52,257.2 L1537.3,254.29 L1534.58,254.29 L1531.95,251.38 L1531,251.38 L1526.99,248.47 L1526.47,248.47 L1522.96,245.56 L1523.5,245.56 L1520.1,242.65 L1521.39,242.65 L1517.39,239.74 L1519.6,239.74 L1516.28,236.83 L1517.84,236.83 L1515.01,233.92 L1517.51,233.92 L1512.46,231.01 L1514.93,231.01 L1512.17,228.1 L1515.17,228.1 L1510.56,225.19 L1513.28,225.19 L1510.31,222.28 L1514.04,222.28 L1508.93,219.37 L1513.2,219.37 L1509.01,216.46 L1511.8,216.46 L1509.39,213.54 L1512.95,213.54 L1508.08,210.63 L1513.7,210.63 L1508.78,207.72 L1513.51,207.72 L1509.07,204.81 L1515.17,204.81 L1509.89,201.9 L1515.17,201.9 L1512.17,198.99 L1516.01,198.99 L1512.45,196.08 L1517.22,196.08 L1513.91,193.17 L1519.95,193.17 L1515.09,190.26 L1520.86,190.26 L1517.36,187.35 L1524.39,187.35 L1520.25,184.44 L1526.43,184.44 L1522.35,181.53 L1529.55,181.53 L1527.21,178.62 L1535.55,178.62 L1531.68,175.71 L1541.27,175.71 L1537.39,172.8 L1545.43,172.8 L1545.43,172.1Z" fill="#440154"/>
<rect x="1439.2" y="95" width="232.5" height="232.2" fill="none" stroke="#000" stroke-width="1.45"/>
<line x1="1449.6" y1="327.2" x2="1449.6" y2="332.2" stroke="#000" stroke-width="1.45"/>
<text x="1449.6" y="354.4" font-family="'Liberation Sans', Arial, Helvetica, sans-serif" font-size="23.4" font-weight="normal" text-anchor="middle" fill="#000" stroke="#000" stroke-width="0.35">0</text>
<line x1="1556.6" y1="327.2" x2="1556.6" y2="332.2" stroke="#000" stroke-width="1.45"/>
<text x="1556.6" y="354.4" font-family="'Liberation Sans', Arial, Helvetica, sans-serif" font-size="23.4" font-weight="normal" text-anchor="middle" fill="#000" stroke="#000" stroke-width="0.35">10</text>
<line x1="1663.8" y1="327.2" x2="1663.8" y2="332.2" stroke="#000" stroke-width="1.45"/>
<text x="1663.8" y="354.4" font-family="'Liberation Sans', Arial, Helvetica, sans-serif" font-size="23.4" font-weight="normal" text-anchor="middle" fill="#000" stroke="#000" stroke-width="0.35">20</text>
<line x1="1434.2" y1="316.8" x2="1439.2" y2="316.8" stroke="#000" stroke-width="1.45"/>
<text x="1428.9" y="325.2" font-family="'Liberation Sans', Arial, Helvetica, sans-serif" font-size="23.4" font-weight="normal" text-anchor="end" fill="#000" stroke="#000" stroke-width="0.35">0</text>
<line x1="1434.2" y1="209.5" x2="1439.2" y2="209.5" stroke="#000" stroke-width="1.45"/>
<text x="1428.9" y="217.9" font-family="'Liberation Sans', Arial, Helvetica, sans-serif" font-size="23.4" font-weight="normal" text-anchor="end" fill="#000" stroke="#000" stroke-width="0.35">10</text>
<line x1="1434.2" y1="102.5" x2="1439.2" y2="102.5" stroke="#000" stroke-width="1.45"/>
<text x="1428.9" y="110.9" font-family="'Liberation Sans', Arial, Helvetica, sans-serif" font-size="23.4" font-weight="normal" text-anchor="end" fill="#000" stroke="#000" stroke-width="0.35">20</text>
<text x="1555.45" y="85.8" font-family="'Liberation Sans', Arial, Helvetica, sans-serif" font-size="27.6" font-weight="normal" text-anchor="middle" fill="#000" stroke="#000" stroke-width="0.35">Time = 0.2 s</text>
<text x="1555.45" y="381.7" font-family="'Liberation Sans', Arial, Helvetica, sans-serif" font-size="23.4" font-weight="normal" text-anchor="middle" fill="#000" stroke="#000" stroke-width="0.35">X (μm)</text>
<text x="1393.4" y="211.1" font-family="'Liberation Sans', Arial, Helvetica, sans-serif" font-size="23.4" font-weight="normal" text-anchor="middle" fill="#000" transform="rotate(-90 1393.4 211.1)" stroke="#000" stroke-width="0.35">Y (μm)</text>
<rect x="1681.7" y="95" width="12.1" height="232.2" fill="url(#virV)"/>
<rect x="1681.7" y="95" width="12.1" height="232.2" fill="none" stroke="#000" stroke-width="1.45"/>
<line x1="1693.8" y1="327.2" x2="1698.8" y2="327.2" stroke="#000" stroke-width="1.45"/>
<text x="1704.2" y="335.6" font-family="'Liberation Sans', Arial, Helvetica, sans-serif" font-size="23.4" font-weight="normal" text-anchor="start" fill="#000" stroke="#000" stroke-width="0.35">0</text>
<line x1="1693.8" y1="242.61" x2="1698.8" y2="242.61" stroke="#000" stroke-width="1.45"/>
<text x="1704.2" y="251.01" font-family="'Liberation Sans', Arial, Helvetica, sans-serif" font-size="23.4" font-weight="normal" text-anchor="start" fill="#000" stroke="#000" stroke-width="0.35">200</text>
<line x1="1693.8" y1="158.02" x2="1698.8" y2="158.02" stroke="#000" stroke-width="1.45"/>
<text x="1704.2" y="166.42" font-family="'Liberation Sans', Arial, Helvetica, sans-serif" font-size="23.4" font-weight="normal" text-anchor="start" fill="#000" stroke="#000" stroke-width="0.35">400</text>
</g>
<g id="hm6">
<rect x="1453.3" y="486.7" width="221.7" height="222.1" rx="4.4" ry="4.4" fill="#440154"/>
<circle cx="1562.5" cy="601.8" r="109" fill="url(#hm6g)" clip-path="url(#cliphm6)"/>
<path d="M1570.07,558.9 L1570.07,559.6 L1574.23,559.6 L1578.11,562.51 L1579.95,562.51 L1583.82,565.42 L1585.95,565.42 L1588.29,568.33 L1589.07,568.33 L1593.15,571.24 L1591.11,571.24 L1595.25,574.15 L1594.64,574.15 L1598.14,577.06 L1595.55,577.06 L1600.41,579.97 L1598.28,579.97 L1601.59,582.88 L1599.49,582.88 L1603.05,585.79 L1600.33,585.79 L1603.33,588.7 L1600.33,588.7 L1605.61,591.61 L1601.99,591.61 L1606.43,594.52 L1601.8,594.52 L1606.72,597.43 L1602.55,597.43 L1607.42,600.34 L1603.7,600.34 L1606.11,603.26 L1602.3,603.26 L1606.49,606.17 L1601.46,606.17 L1606.57,609.08 L1602.22,609.08 L1605.19,611.99 L1600.33,611.99 L1604.94,614.9 L1600.57,614.9 L1603.33,617.81 L1597.99,617.81 L1603.04,620.72 L1597.66,620.72 L1600.49,623.63 L1595.9,623.63 L1599.22,626.54 L1594.11,626.54 L1598.11,629.45 L1592,629.45 L1595.4,632.36 L1589.03,632.36 L1592.54,635.27 L1584.5,635.27 L1588.51,638.18 L1580.92,638.18 L1583.55,641.09 L1573.98,641.09 L1578.2,644 L1570.07,644 L1570.07,644.7 L1554.93,644.7 L1554.93,644 L1551.02,644 L1546.8,641.09 L1544.08,641.09 L1541.45,638.18 L1540.5,638.18 L1536.49,635.27 L1535.97,635.27 L1532.46,632.36 L1533,632.36 L1529.6,629.45 L1530.89,629.45 L1526.89,626.54 L1529.1,626.54 L1525.78,623.63 L1527.34,623.63 L1524.51,620.72 L1527.01,620.72 L1521.96,617.81 L1524.43,617.81 L1521.67,614.9 L1524.67,614.9 L1520.06,611.99 L1522.78,611.99 L1519.81,609.08 L1523.54,609.08 L1518.43,606.17 L1522.7,606.17 L1518.51,603.26 L1521.3,603.26 L1518.89,600.34 L1522.45,600.34 L1517.58,597.43 L1523.2,597.43 L1518.28,594.52 L1523.01,594.52 L1518.57,591.61 L1524.67,591.61 L1519.39,588.7 L1524.67,588.7 L1521.67,585.79 L1525.51,585.79 L1521.95,582.88 L1526.72,582.88 L1523.41,579.97 L1529.45,579.97 L1524.59,577.06 L1530.36,577.06 L1526.86,574.15 L1533.89,574.15 L1529.75,571.24 L1535.93,571.24 L1531.85,568.33 L1539.05,568.33 L1536.71,565.42 L1545.05,565.42 L1541.18,562.51 L1550.77,562.51 L1546.89,559.6 L1554.93,559.6 L1554.93,558.9Z" fill="#440154"/>
<rect x="1448.2" y="481.8" width="232.5" height="232.2" fill="none" stroke="#000" stroke-width="1.45"/>
<line x1="1458.6" y1="714" x2="1458.6" y2="719" stroke="#000" stroke-width="1.45"/>
<text x="1458.6" y="741.2" font-family="'Liberation Sans', Arial, Helvetica, sans-serif" font-size="23.4" font-weight="normal" text-anchor="middle" fill="#000" stroke="#000" stroke-width="0.35">0</text>
<line x1="1565.6" y1="714" x2="1565.6" y2="719" stroke="#000" stroke-width="1.45"/>
<text x="1565.6" y="741.2" font-family="'Liberation Sans', Arial, Helvetica, sans-serif" font-size="23.4" font-weight="normal" text-anchor="middle" fill="#000" stroke="#000" stroke-width="0.35">10</text>
<line x1="1672.8" y1="714" x2="1672.8" y2="719" stroke="#000" stroke-width="1.45"/>
<text x="1672.8" y="741.2" font-family="'Liberation Sans', Arial, Helvetica, sans-serif" font-size="23.4" font-weight="normal" text-anchor="middle" fill="#000" stroke="#000" stroke-width="0.35">20</text>
<line x1="1443.2" y1="703.6" x2="1448.2" y2="703.6" stroke="#000" stroke-width="1.45"/>
<text x="1437.9" y="712" font-family="'Liberation Sans', Arial, Helvetica, sans-serif" font-size="23.4" font-weight="normal" text-anchor="end" fill="#000" stroke="#000" stroke-width="0.35">0</text>
<line x1="1443.2" y1="596.3" x2="1448.2" y2="596.3" stroke="#000" stroke-width="1.45"/>
<text x="1437.9" y="604.7" font-family="'Liberation Sans', Arial, Helvetica, sans-serif" font-size="23.4" font-weight="normal" text-anchor="end" fill="#000" stroke="#000" stroke-width="0.35">10</text>
<line x1="1443.2" y1="489.3" x2="1448.2" y2="489.3" stroke="#000" stroke-width="1.45"/>
<text x="1437.9" y="497.7" font-family="'Liberation Sans', Arial, Helvetica, sans-serif" font-size="23.4" font-weight="normal" text-anchor="end" fill="#000" stroke="#000" stroke-width="0.35">20</text>
<text x="1564.45" y="472.6" font-family="'Liberation Sans', Arial, Helvetica, sans-serif" font-size="27.6" font-weight="normal" text-anchor="middle" fill="#000" stroke="#000" stroke-width="0.35">Time = 20 s</text>
<text x="1564.45" y="768.5" font-family="'Liberation Sans', Arial, Helvetica, sans-serif" font-size="23.4" font-weight="normal" text-anchor="middle" fill="#000" stroke="#000" stroke-width="0.35">X (μm)</text>
<text x="1402.4" y="597.9" font-family="'Liberation Sans', Arial, Helvetica, sans-serif" font-size="23.4" font-weight="normal" text-anchor="middle" fill="#000" transform="rotate(-90 1402.4 597.9)" stroke="#000" stroke-width="0.35">Y (μm)</text>
<rect x="1690.7" y="481.8" width="12.1" height="232.2" fill="url(#virV)"/>
<rect x="1690.7" y="481.8" width="12.1" height="232.2" fill="none" stroke="#000" stroke-width="1.45"/>
<line x1="1702.8" y1="714" x2="1707.8" y2="714" stroke="#000" stroke-width="1.45"/>
<text x="1713.2" y="722.4" font-family="'Liberation Sans', Arial, Helvetica, sans-serif" font-size="23.4" font-weight="normal" text-anchor="start" fill="#000" stroke="#000" stroke-width="0.35">0</text>
<line x1="1702.8" y1="629.41" x2="1707.8" y2="629.41" stroke="#000" stroke-width="1.45"/>
<text x="1713.2" y="637.81" font-family="'Liberation Sans', Arial, Helvetica, sans-serif" font-size="23.4" font-weight="normal" text-anchor="start" fill="#000" stroke="#000" stroke-width="0.35">200</text>
<line x1="1702.8" y1="544.82" x2="1707.8" y2="544.82" stroke="#000" stroke-width="1.45"/>
<text x="1713.2" y="553.22" font-family="'Liberation Sans', Arial, Helvetica, sans-serif" font-size="23.4" font-weight="normal" text-anchor="start" fill="#000" stroke="#000" stroke-width="0.35">400</text>
</g>
<text x="35.8" y="862.4" font-family="'Liberation Sans', Arial, Helvetica, sans-serif" font-size="26" font-weight="normal" text-anchor="start" fill="#000" stroke="#000" stroke-width="0.35">C</text>
<g>
<polyline points="91.4,1139.5 103.4,1132.84 115.39,1129.09 127.39,1127.01 139.38,1125.76 151.38,1124.93 163.37,1124.27 175.37,1123.85 187.36,1123.52 211.35,1123.02 235.34,1122.68 271.33,1122.27 331.3,1121.77" fill="none" stroke="#0000ff" stroke-width="2.45" stroke-linejoin="round" stroke-linecap="square"/>
<polyline points="91.4,1139.5 103.4,1060.41 115.39,1026.86 127.39,1008.38 139.38,997.14 151.38,989.98 163.37,985.07 175.37,982.16 187.36,980.08 211.35,977.16 235.34,975.5 271.33,973.42 331.3,971.09" fill="none" stroke="#ff0000" stroke-width="2.45" stroke-linejoin="round" stroke-linecap="square"/>
<rect x="79.6" y="956.5" width="263.5" height="187.1" fill="none" stroke="#000" stroke-width="1.35"/>
<line x1="91.4" y1="1143.6" x2="91.4" y2="1148.6" stroke="#000" stroke-width="1.35"/>
<text transform="translate(91.4 1169.8) scale(1.0600 1.0000)" font-family="'Liberation Sans', Arial, Helvetica, sans-serif" font-size="22.9" font-weight="normal" text-anchor="middle" fill="#000" stroke="#000" stroke-width="0.35">0</text>
<line x1="211.35" y1="1143.6" x2="211.35" y2="1148.6" stroke="#000" stroke-width="1.35"/>
<text transform="translate(211.35 1169.8) scale(1.0600 1.0000)" font-family="'Liberation Sans', Arial, Helvetica, sans-serif" font-size="22.9" font-weight="normal" text-anchor="middle" fill="#000" stroke="#000" stroke-width="0.35">10</text>
<line x1="331.3" y1="1143.6" x2="331.3" y2="1148.6" stroke="#000" stroke-width="1.35"/>
<text transform="translate(331.3 1169.8) scale(1.0600 1.0000)" font-family="'Liberation Sans', Arial, Helvetica, sans-serif" font-size="22.9" font-weight="normal" text-anchor="middle" fill="#000" stroke="#000" stroke-width="0.35">20</text>
<line x1="74.6" y1="1139.5" x2="79.6" y2="1139.5" stroke="#000" stroke-width="1.35"/>
<text transform="translate(69.2 1147.8) scale(1.0600 1.0000)" font-family="'Liberation Sans', Arial, Helvetica, sans-serif" font-size="22.9" font-weight="normal" text-anchor="end" fill="#000" stroke="#000" stroke-width="0.35">0</text>
<line x1="74.6" y1="1056.25" x2="79.6" y2="1056.25" stroke="#000" stroke-width="1.35"/>
<text transform="translate(69.2 1064.55) scale(1.0600 1.0000)" font-family="'Liberation Sans', Arial, Helvetica, sans-serif" font-size="22.9" font-weight="normal" text-anchor="end" fill="#000" stroke="#000" stroke-width="0.35">100</text>
<line x1="74.6" y1="973" x2="79.6" y2="973" stroke="#000" stroke-width="1.35"/>
<text transform="translate(69.2 981.3) scale(1.0600 1.0000)" font-family="'Liberation Sans', Arial, Helvetica, sans-serif" font-size="22.9" font-weight="normal" text-anchor="end" fill="#000" stroke="#000" stroke-width="0.35">200</text>
<text transform="translate(211.35 1196.6) scale(1.0600 1.0000)" font-family="'Liberation Sans', Arial, Helvetica, sans-serif" font-size="22.9" font-weight="normal" text-anchor="middle" fill="#000" stroke="#000" stroke-width="0.35">Time (s)</text>
<text transform="translate(211.35 947.3) scale(1.0600 1.0000)" font-family="'DejaVu Sans', 'Liberation Sans', sans-serif" font-size="21.45" font-weight="bold" text-anchor="middle" fill="#000" style="font-kerning:none" stroke="#000" stroke-width="0.35">D<tspan font-size="72%" dy="0.23em">FA</tspan><tspan dy="-0.17em">&#8203;</tspan> = 1 μm<tspan font-size="72%" dy="-0.5em">2</tspan><tspan dy="0.36em">&#8203;</tspan>/s</text>
<rect x="184" y="1018.9" width="148.6" height="62" rx="3" ry="3" fill="#fff" fill-opacity="0.8" stroke="#c9c9c9" stroke-width="1.45"/>
<line x1="192" y1="1034.3" x2="235.7" y2="1034.3" stroke="#0000ff" stroke-width="2.4"/>
<text x="251.7" y="1041.7" font-family="'Liberation Sans', Arial, Helvetica, sans-serif" font-size="20.8" font-weight="normal" text-anchor="start" fill="#000" stroke="#000" stroke-width="0.35">Bulk</text>
<line x1="192" y1="1061.9" x2="235.7" y2="1061.9" stroke="#ff0000" stroke-width="2.4"/>
<text x="251.7" y="1069.3" font-family="'Liberation Sans', Arial, Helvetica, sans-serif" font-size="20.8" font-weight="normal" text-anchor="start" fill="#000" stroke="#000" stroke-width="0.35">Surface</text>
</g>
<g>
<polyline points="387.8,1139.5 399.8,1133.67 411.8,1130.76 423.8,1129.26 435.8,1128.51 447.8,1128.09 459.8,1127.85 471.8,1127.68 483.8,1127.51 507.8,1127.35 531.8,1127.18 567.8,1126.93 627.8,1126.68" fill="none" stroke="#0000ff" stroke-width="2.45" stroke-linejoin="round" stroke-linecap="square"/>
<polyline points="387.8,1139.5 399.8,1080.39 411.8,1060.75 423.8,1052.09 435.8,1047.59 447.8,1045.18 459.8,1043.76 471.8,1042.93 483.8,1042.26 507.8,1041.43 531.8,1040.77 567.8,1039.85 627.8,1038.52" fill="none" stroke="#ff0000" stroke-width="2.45" stroke-linejoin="round" stroke-linecap="square"/>
<rect x="375.9" y="956.5" width="264.1" height="187.1" fill="none" stroke="#000" stroke-width="1.35"/>
<line x1="387.8" y1="1143.6" x2="387.8" y2="1148.6" stroke="#000" stroke-width="1.35"/>
<text transform="translate(387.8 1169.8) scale(1.0600 1.0000)" font-family="'Liberation Sans', Arial, Helvetica, sans-serif" font-size="22.9" font-weight="normal" text-anchor="middle" fill="#000" stroke="#000" stroke-width="0.35">0</text>
<line x1="507.8" y1="1143.6" x2="507.8" y2="1148.6" stroke="#000" stroke-width="1.35"/>
<text transform="translate(507.8 1169.8) scale(1.0600 1.0000)" font-family="'Liberation Sans', Arial, Helvetica, sans-serif" font-size="22.9" font-weight="normal" text-anchor="middle" fill="#000" stroke="#000" stroke-width="0.35">10</text>
<line x1="627.8" y1="1143.6" x2="627.8" y2="1148.6" stroke="#000" stroke-width="1.35"/>
<text transform="translate(627.8 1169.8) scale(1.0600 1.0000)" font-family="'Liberation Sans', Arial, Helvetica, sans-serif" font-size="22.9" font-weight="normal" text-anchor="middle" fill="#000" stroke="#000" stroke-width="0.35">20</text>
<line x1="370.9" y1="1139.5" x2="375.9" y2="1139.5" stroke="#000" stroke-width="1.35"/>
<line x1="370.9" y1="1056.25" x2="375.9" y2="1056.25" stroke="#000" stroke-width="1.35"/>
<line x1="370.9" y1="973" x2="375.9" y2="973" stroke="#000" stroke-width="1.35"/>
<text transform="translate(507.95 1196.6) scale(1.0600 1.0000)" font-family="'Liberation Sans', Arial, Helvetica, sans-serif" font-size="22.9" font-weight="normal" text-anchor="middle" fill="#000" stroke="#000" stroke-width="0.35">Time (s)</text>
<text transform="translate(507.95 947.3) scale(1.0600 1.0000)" font-family="'DejaVu Sans', 'Liberation Sans', sans-serif" font-size="21.45" font-weight="bold" text-anchor="middle" fill="#000" style="font-kerning:none" stroke="#000" stroke-width="0.35">D<tspan font-size="72%" dy="0.23em">FA</tspan><tspan dy="-0.17em">&#8203;</tspan> = 2 μm<tspan font-size="72%" dy="-0.5em">2</tspan><tspan dy="0.36em">&#8203;</tspan>/s</text>
<rect x="480.5" y="966.4" width="148.6" height="62" rx="3" ry="3" fill="#fff" fill-opacity="0.8" stroke="#c9c9c9" stroke-width="1.45"/>
<line x1="488.5" y1="981.8" x2="532.2" y2="981.8" stroke="#0000ff" stroke-width="2.4"/>
<text x="548.2" y="989.2" font-family="'Liberation Sans', Arial, Helvetica, sans-serif" font-size="20.8" font-weight="normal" text-anchor="start" fill="#000" stroke="#000" stroke-width="0.35">Bulk</text>
<line x1="488.5" y1="1009.4" x2="532.2" y2="1009.4" stroke="#ff0000" stroke-width="2.4"/>
<text x="548.2" y="1016.8" font-family="'Liberation Sans', Arial, Helvetica, sans-serif" font-size="20.8" font-weight="normal" text-anchor="start" fill="#000" stroke="#000" stroke-width="0.35">Surface</text>
</g>
<text transform="translate(17.5 1050.3) scale(1.0600 1.0000) rotate(-90)" font-family="'Liberation Sans', Arial, Helvetica, sans-serif" font-size="22.5" font-weight="normal" text-anchor="middle" fill="#000" stroke="#000" stroke-width="0.35">F-actin (μM)</text>
<text x="672" y="865" font-family="'Liberation Sans', Arial, Helvetica, sans-serif" font-size="26" font-weight="normal" text-anchor="start" fill="#000" stroke="#000" stroke-width="0.35">D</text>
<g id="panelD">
<path d="M787.5,925.4 L778.7,942.6 L796.3,942.6 Z" fill="#bf00bf"/>
<path d="M851.5,934.3 L842.7,951.5 L860.3,951.5 Z" fill="#bf00bf"/>
<path d="M915.4,953 L906.6,970.2 L924.2,970.2 Z" fill="#bf00bf"/>
<path d="M979.4,983.9 L970.6,1001.1 L988.2,1001.1 Z" fill="#bf00bf"/>
<path d="M1043.3,1025.5 L1034.5,1042.7 L1052.1,1042.7 Z" fill="#bf00bf"/>
<path d="M1107.2,1071.6 L1098.4,1088.8 L1116,1088.8 Z" fill="#bf00bf"/>
<path d="M1171.2,1113.7 L1162.4,1130.9 L1180,1130.9 Z" fill="#bf00bf"/>
<rect x="768.6" y="907.5" width="421.9" height="275.5" fill="none" stroke="#000" stroke-width="1.6"/>
<line x1="787.5" y1="1183" x2="787.5" y2="1189" stroke="#000" stroke-width="1.6"/>
<text x="787.5" y="1213.3" font-family="'Liberation Sans', Arial, Helvetica, sans-serif" font-size="25.4" font-weight="normal" text-anchor="middle" fill="#000" stroke="#000" stroke-width="0.35">0.125</text>
<line x1="851.5" y1="1183" x2="851.5" y2="1189" stroke="#000" stroke-width="1.6"/>
<text x="851.5" y="1213.3" font-family="'Liberation Sans', Arial, Helvetica, sans-serif" font-size="25.4" font-weight="normal" text-anchor="middle" fill="#000" stroke="#000" stroke-width="0.35">0.25</text>
<line x1="915.4" y1="1183" x2="915.4" y2="1189" stroke="#000" stroke-width="1.6"/>
<text x="915.4" y="1213.3" font-family="'Liberation Sans', Arial, Helvetica, sans-serif" font-size="25.4" font-weight="normal" text-anchor="middle" fill="#000" stroke="#000" stroke-width="0.35">0.5</text>
<line x1="979.4" y1="1183" x2="979.4" y2="1189" stroke="#000" stroke-width="1.6"/>
<text x="979.4" y="1213.3" font-family="'Liberation Sans', Arial, Helvetica, sans-serif" font-size="25.4" font-weight="normal" text-anchor="middle" fill="#000" stroke="#000" stroke-width="0.35">1</text>
<line x1="1043.3" y1="1183" x2="1043.3" y2="1189" stroke="#000" stroke-width="1.6"/>
<text x="1043.3" y="1213.3" font-family="'Liberation Sans', Arial, Helvetica, sans-serif" font-size="25.4" font-weight="normal" text-anchor="middle" fill="#000" stroke="#000" stroke-width="0.35">2</text>
<line x1="1107.2" y1="1183" x2="1107.2" y2="1189" stroke="#000" stroke-width="1.6"/>
<text x="1107.2" y="1213.3" font-family="'Liberation Sans', Arial, Helvetica, sans-serif" font-size="25.4" font-weight="normal" text-anchor="middle" fill="#000" stroke="#000" stroke-width="0.35">4</text>
<line x1="1171.2" y1="1183" x2="1171.2" y2="1189" stroke="#000" stroke-width="1.6"/>
<text x="1171.2" y="1213.3" font-family="'Liberation Sans', Arial, Helvetica, sans-serif" font-size="25.4" font-weight="normal" text-anchor="middle" fill="#000" stroke="#000" stroke-width="0.35">8</text>
<line x1="762.6" y1="932.8" x2="768.6" y2="932.8" stroke="#000" stroke-width="1.6"/>
<text x="756.4" y="943.6" font-family="'Liberation Sans', Arial, Helvetica, sans-serif" font-size="30" font-weight="normal" text-anchor="end" fill="#000" stroke="#000" stroke-width="0.35">12</text>
<line x1="762.6" y1="1032.5" x2="768.6" y2="1032.5" stroke="#000" stroke-width="1.6"/>
<text x="756.4" y="1043.3" font-family="'Liberation Sans', Arial, Helvetica, sans-serif" font-size="30" font-weight="normal" text-anchor="end" fill="#000" stroke="#000" stroke-width="0.35">8</text>
<line x1="762.6" y1="1132.3" x2="768.6" y2="1132.3" stroke="#000" stroke-width="1.6"/>
<text x="756.4" y="1143.1" font-family="'Liberation Sans', Arial, Helvetica, sans-serif" font-size="30" font-weight="normal" text-anchor="end" fill="#000" stroke="#000" stroke-width="0.35">4</text>
<text x="979.75" y="885.3" font-family="'DejaVu Sans', 'Liberation Sans', sans-serif" font-size="25.15" font-weight="bold" text-anchor="middle" fill="#000" style="font-kerning:none" stroke="#000" stroke-width="0.35">D<tspan font-size="72%" dy="0.23em">GA</tspan><tspan dy="-0.17em">&#8203;</tspan> = 10 μm<tspan font-size="72%" dy="-0.5em">2</tspan><tspan dy="0.36em">&#8203;</tspan>/s</text>
<text x="979.55" y="1253.8" font-family="'DejaVu Sans', 'Liberation Sans', sans-serif" font-size="29.5" font-weight="bold" text-anchor="middle" fill="#000" style="font-kerning:none" stroke="#000" stroke-width="0.35">D<tspan font-size="72%" dy="0.23em">FA</tspan><tspan dy="-0.17em">&#8203;</tspan> (μm<tspan font-size="72%" dy="-0.5em">2</tspan><tspan dy="0.36em">&#8203;</tspan>/s)</text>
<text x="711.4" y="1044.8" font-family="'DejaVu Sans', 'Liberation Sans', sans-serif" font-size="30" font-weight="bold" text-anchor="middle" fill="#000" transform="rotate(-90 711.4 1044.8)" style="font-kerning:none" stroke="#000" stroke-width="0.35">FA<tspan font-size="67%" dy="0.25em">Surface</tspan><tspan dy="-0.17em">&#8203;</tspan> / FA<tspan font-size="67%" dy="0.25em">Bulk</tspan><tspan dy="-0.17em">&#8203;</tspan></text>
</g>
<text x="1251.6" y="862" font-family="'Liberation Sans', Arial, Helvetica, sans-serif" font-size="26" font-weight="normal" text-anchor="start" fill="#000" stroke="#000" stroke-width="0.35">E</text>
<g id="panelE">
<rect x="1338.6" y="920.8" width="45.3" height="269.9" fill="#1f77b4" stroke="#000" stroke-width="1.8"/>
<rect x="1451.4" y="929.6" width="45.6" height="261.1" fill="#1f77b4" stroke="#000" stroke-width="1.8"/>
<rect x="1564.1" y="939.1" width="45.7" height="251.6" fill="#1f77b4" stroke="#000" stroke-width="1.8"/>
<rect x="1676.9" y="959.5" width="45.7" height="231.2" fill="#1f77b4" stroke="#000" stroke-width="1.8"/>
<rect x="1319.3" y="907.5" width="421.9" height="283.2" fill="none" stroke="#000" stroke-width="1.6"/>
<line x1="1361" y1="1190.7" x2="1361" y2="1196.7" stroke="#000" stroke-width="1.6"/>
<text x="1361" y="1224.9" font-family="'Liberation Sans', Arial, Helvetica, sans-serif" font-size="29.4" font-weight="normal" text-anchor="middle" fill="#000" stroke="#000" stroke-width="0.35">1</text>
<line x1="1473.9" y1="1190.7" x2="1473.9" y2="1196.7" stroke="#000" stroke-width="1.6"/>
<text x="1473.9" y="1224.9" font-family="'Liberation Sans', Arial, Helvetica, sans-serif" font-size="29.4" font-weight="normal" text-anchor="middle" fill="#000" stroke="#000" stroke-width="0.35">0.8</text>
<line x1="1586.6" y1="1190.7" x2="1586.6" y2="1196.7" stroke="#000" stroke-width="1.6"/>
<text x="1586.6" y="1224.9" font-family="'Liberation Sans', Arial, Helvetica, sans-serif" font-size="29.4" font-weight="normal" text-anchor="middle" fill="#000" stroke="#000" stroke-width="0.35">0.6</text>
<line x1="1699.4" y1="1190.7" x2="1699.4" y2="1196.7" stroke="#000" stroke-width="1.6"/>
<text x="1699.4" y="1224.9" font-family="'Liberation Sans', Arial, Helvetica, sans-serif" font-size="29.4" font-weight="normal" text-anchor="middle" fill="#000" stroke="#000" stroke-width="0.35">0.4</text>
<line x1="1313.3" y1="1190.7" x2="1319.3" y2="1190.7" stroke="#000" stroke-width="1.6"/>
<text x="1307.4" y="1201.6" font-family="'Liberation Sans', Arial, Helvetica, sans-serif" font-size="30" font-weight="normal" text-anchor="end" fill="#000" stroke="#000" stroke-width="0.35">0</text>
<line x1="1313.3" y1="1135.68" x2="1319.3" y2="1135.68" stroke="#000" stroke-width="1.6"/>
<text x="1307.4" y="1146.58" font-family="'Liberation Sans', Arial, Helvetica, sans-serif" font-size="30" font-weight="normal" text-anchor="end" fill="#000" stroke="#000" stroke-width="0.35">2</text>
<line x1="1313.3" y1="1080.66" x2="1319.3" y2="1080.66" stroke="#000" stroke-width="1.6"/>
<text x="1307.4" y="1091.56" font-family="'Liberation Sans', Arial, Helvetica, sans-serif" font-size="30" font-weight="normal" text-anchor="end" fill="#000" stroke="#000" stroke-width="0.35">4</text>
<line x1="1313.3" y1="1025.64" x2="1319.3" y2="1025.64" stroke="#000" stroke-width="1.6"/>
<text x="1307.4" y="1036.54" font-family="'Liberation Sans', Arial, Helvetica, sans-serif" font-size="30" font-weight="normal" text-anchor="end" fill="#000" stroke="#000" stroke-width="0.35">6</text>
<line x1="1313.3" y1="970.62" x2="1319.3" y2="970.62" stroke="#000" stroke-width="1.6"/>
<text x="1307.4" y="981.52" font-family="'Liberation Sans', Arial, Helvetica, sans-serif" font-size="30" font-weight="normal" text-anchor="end" fill="#000" stroke="#000" stroke-width="0.35">8</text>
<line x1="1313.3" y1="915.6" x2="1319.3" y2="915.6" stroke="#000" stroke-width="1.6"/>
<text x="1307.4" y="926.5" font-family="'Liberation Sans', Arial, Helvetica, sans-serif" font-size="30" font-weight="normal" text-anchor="end" fill="#000" stroke="#000" stroke-width="0.35">10</text>
<text x="1526.75" y="885.9" font-family="'DejaVu Sans', 'Liberation Sans', sans-serif" font-size="21.5" font-weight="bold" text-anchor="middle" fill="#000" style="font-kerning:none" stroke="#000" stroke-width="0.35">D<tspan font-size="72%" dy="0.23em">GA</tspan><tspan dy="-0.17em">&#8203;</tspan> = 10 μm<tspan font-size="72%" dy="-0.5em">2</tspan><tspan dy="0.36em">&#8203;</tspan>/s, D<tspan font-size="72%" dy="0.23em">FA</tspan><tspan dy="-0.17em">&#8203;</tspan> = 1 μm<tspan font-size="72%" dy="-0.5em">2</tspan><tspan dy="0.36em">&#8203;</tspan>/s</text>
<text x="1530.25" y="1258.1" font-family="'Liberation Sans', Arial, Helvetica, sans-serif" font-size="28.9" font-weight="bold" text-anchor="middle" fill="#000" stroke="#000" stroke-width="0.35">HemiSphericity</text>
<text x="1262.5" y="1049.2" font-family="'DejaVu Sans', 'Liberation Sans', sans-serif" font-size="29.6" font-weight="bold" text-anchor="middle" fill="#000" transform="rotate(-90 1262.5 1049.2)" style="font-kerning:none" stroke="#000" stroke-width="0.35">FA<tspan font-size="67%" dy="0.25em">Surface</tspan><tspan dy="-0.17em">&#8203;</tspan> / FA<tspan font-size="67%" dy="0.25em">Bulk</tspan><tspan dy="-0.17em">&#8203;</tspan></text>
</g>
</svg>
</body>
</html>
